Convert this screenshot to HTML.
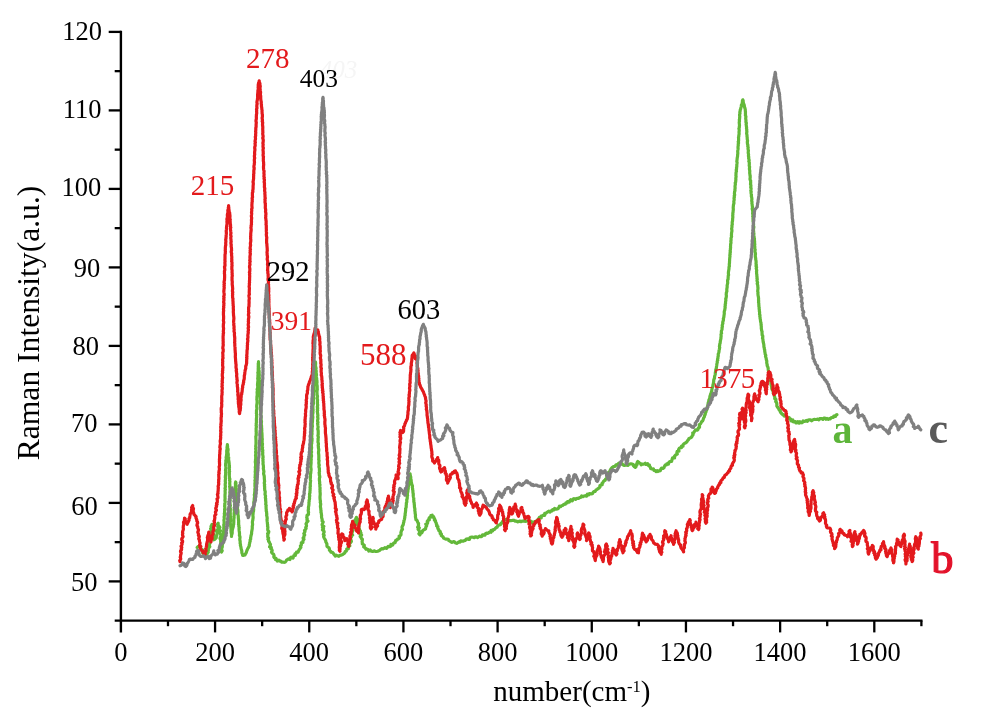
<!DOCTYPE html>
<html><head><meta charset="utf-8"><style>
html,body{margin:0;padding:0;background:#fff;}
svg{display:block;font-family:"Liberation Serif",serif;}
</style></head><body>
<svg width="983" height="723" viewBox="0 0 983 723">
<polyline points="197.2,547.6 197.9,546.7 199.1,546.6 200.0,546.0 200.6,546.9 200.7,548.1 201.0,549.1 202.4,549.7 202.9,550.7 202.5,552.0 202.7,553.1 204.1,553.2 204.7,553.9 205.0,555.0 206.4,555.4 207.1,554.2 207.3,553.1 208.3,552.2 207.9,550.9 208.5,549.9 207.9,548.5 209.1,547.7 209.8,546.7 209.4,545.4 209.5,544.3 210.0,543.2 210.0,542.1 209.0,540.9 210.3,539.9 210.1,538.7 209.7,537.6 209.3,536.4 210.9,535.4 210.3,534.3 210.8,533.2 211.2,532.1 211.0,531.0 211.5,529.9 210.6,528.7 211.4,527.7 211.0,526.5 211.5,525.4 212.1,524.3 211.4,525.5 211.7,526.6 213.2,527.5 213.2,528.7 213.2,529.8 212.0,531.0 213.1,532.0 212.8,533.2 213.5,534.2 213.3,535.4 213.6,536.5 213.8,537.6 213.5,538.7 213.8,539.8 214.7,539.4 215.4,538.7 216.3,537.7 216.1,536.5 216.8,535.5 216.8,534.4 217.3,533.3 216.9,532.1 216.2,530.8 217.6,530.0 218.0,528.9 218.1,527.8 217.7,526.5 218.2,525.5 217.5,524.2 218.2,523.2 217.8,524.4 218.5,525.4 219.2,526.5 219.9,527.5 218.7,528.9 218.7,530.0 220.5,530.8 219.4,532.2 220.3,533.2 220.4,534.3 221.1,535.4 220.9,536.5 220.1,537.6 220.0,538.8 221.6,539.8 220.6,541.0 221.7,542.0 220.6,543.2 221.3,544.2 220.4,545.4 220.3,546.5 221.2,547.6 220.4,548.7 221.7,549.8 222.2,550.8 221.5,552.0 221.8,550.9 221.0,549.7 221.4,548.6 222.1,547.6 222.3,546.5 222.3,545.3 222.4,544.2 222.9,543.2 222.8,542.0 223.3,540.9 223.2,539.8 223.5,538.7 223.2,537.6 223.3,536.5 223.4,535.5 223.5,534.4 223.6,533.3 223.6,532.2 223.7,531.1 223.9,530.0 223.7,528.9 223.8,527.8 223.9,526.8 223.8,525.7 223.8,524.6 224.2,523.5 224.1,522.4 224.1,521.3 223.9,520.2 224.2,519.1 224.3,518.1 224.1,517.0 224.4,515.9 224.5,514.8 224.3,513.7 224.6,512.6 224.6,511.5 224.7,510.4 224.6,509.3 224.8,508.3 224.9,507.2 224.6,506.1 224.9,505.0 224.7,503.9 225.0,502.8 225.2,501.7 224.9,500.6 225.0,499.5 225.1,498.4 225.0,497.2 225.0,496.1 225.0,495.0 225.1,493.9 225.2,492.8 225.1,491.7 225.1,490.6 225.4,489.5 225.0,488.4 225.3,487.3 225.4,486.2 225.2,485.1 225.2,483.9 225.5,482.8 225.3,481.7 225.3,480.6 225.4,479.5 225.6,478.4 225.3,477.3 225.4,476.2 225.5,475.1 225.7,474.0 225.6,472.9 225.8,471.8 225.5,470.7 225.6,469.5 225.8,468.4 225.9,467.3 225.7,466.2 225.6,465.1 225.6,464.0 225.8,462.9 225.9,461.8 225.8,460.7 226.2,459.7 226.3,458.6 226.1,457.5 226.3,456.5 226.6,455.4 226.6,454.3 226.8,453.3 226.7,452.2 226.7,451.1 226.8,450.0 227.2,449.0 227.0,447.9 227.1,446.8 227.3,445.8 227.4,444.7 227.5,445.8 227.6,446.8 227.5,447.9 228.0,449.0 228.1,450.0 227.8,451.1 227.9,452.2 228.0,453.3 228.3,454.3 228.2,455.4 228.3,456.5 228.7,457.5 228.6,458.6 228.6,459.7 228.8,460.8 229.0,461.8 229.1,462.9 229.2,464.0 229.2,465.1 229.3,466.1 229.5,467.2 229.2,468.3 229.4,469.4 229.2,470.5 229.6,471.6 229.2,472.6 229.4,473.7 229.3,474.8 229.3,475.9 229.4,477.0 229.5,478.1 229.9,479.1 229.5,480.2 229.9,481.3 229.8,482.4 229.7,483.5 229.8,484.6 229.9,485.6 229.6,486.7 229.9,487.8 229.9,488.9 230.0,490.0 230.1,491.1 229.8,492.2 230.0,493.3 229.9,494.4 230.1,495.5 230.2,496.6 230.0,497.8 229.9,498.9 230.2,500.0 229.9,501.1 229.9,502.2 230.0,503.3 230.0,504.4 230.4,505.5 230.1,506.6 230.0,507.7 230.4,508.8 230.3,509.9 230.3,511.0 230.2,512.1 230.3,513.2 230.3,514.3 230.2,515.5 230.6,516.6 230.5,517.7 230.5,518.8 230.5,519.9 230.6,521.0 230.1,522.1 230.4,523.2 230.3,524.3 230.8,525.4 230.7,526.5 230.9,527.6 231.0,528.7 231.0,529.8 231.0,531.0 231.1,532.1 231.3,533.2 231.5,534.3 231.5,535.4 231.5,536.5 231.5,535.4 231.9,534.3 232.2,533.2 232.2,532.1 232.2,530.9 232.4,529.8 232.7,528.7 233.0,527.6 233.3,526.5 233.3,525.4 233.7,524.3 233.7,523.2 233.8,522.1 233.8,521.0 233.8,519.9 233.9,518.7 234.1,517.6 234.0,516.5 234.2,515.4 234.1,514.3 234.1,513.2 234.3,512.1 234.4,511.0 234.1,509.8 234.4,508.7 234.4,507.6 234.7,506.5 234.8,505.4 234.6,504.3 234.9,503.2 234.9,502.1 234.7,500.9 234.8,499.8 234.7,498.7 235.1,497.6 235.1,496.5 235.2,495.4 235.3,494.3 235.2,493.1 235.3,492.0 235.3,490.9 235.1,489.8 235.4,488.7 235.2,487.6 235.3,486.4 235.7,485.3 235.4,484.2 235.4,483.1 235.7,482.0 236.0,483.1 235.7,484.3 236.1,485.4 236.2,486.5 235.9,487.6 236.3,488.7 236.1,489.9 236.2,491.0 236.2,492.1 236.2,493.3 236.5,494.4 236.5,495.5 236.9,496.6 236.6,497.7 236.8,498.9 236.8,500.0 237.0,501.1 237.3,502.2 237.0,503.3 237.0,504.4 237.6,505.5 237.5,506.6 237.5,507.7 237.4,508.8 237.8,509.9 237.9,511.0 238.0,512.1 237.9,513.3 237.9,514.4 238.2,515.5 238.3,516.6 238.3,517.7 238.4,518.8 238.5,519.9 238.7,521.0 238.6,522.1 238.7,523.2 238.5,524.3 238.9,525.4 238.8,526.5 239.2,527.6 239.0,528.8 239.1,529.9 239.2,531.0 239.4,532.1 239.5,533.2 239.5,534.3 239.4,535.4 239.9,536.5 240.0,537.6 239.8,538.7 239.8,539.9 240.1,541.0 240.2,542.1 240.1,543.2 240.5,544.3 240.4,545.4 240.8,546.5 241.0,547.6 241.1,548.7 241.5,549.8 241.8,550.9 241.8,552.0 241.9,553.1 242.5,554.2 242.6,555.3 243.8,555.3 245.0,555.0 245.4,553.9 246.1,553.0 246.5,551.9 246.8,550.8 247.3,549.8 247.7,548.7 248.3,547.8 248.8,546.7 249.3,545.7 249.3,544.6 249.6,543.4 249.8,542.3 250.2,541.2 250.1,540.1 250.7,539.0 250.6,537.8 250.9,536.7 251.0,535.6 251.4,534.5 251.6,533.4 251.6,532.2 251.8,531.1 252.0,530.0 252.2,528.9 252.3,527.8 252.2,526.7 252.4,525.6 252.6,524.5 252.5,523.4 252.4,522.3 252.5,521.2 252.8,520.1 252.9,519.0 253.1,517.9 253.1,516.8 252.9,515.7 253.0,514.6 253.1,513.5 253.1,512.4 253.5,511.4 253.6,510.3 253.7,509.2 253.5,508.0 253.9,507.0 253.7,505.9 253.8,504.8 254.0,503.7 253.8,502.6 253.9,501.5 254.3,500.4 254.2,499.3 254.3,498.2 254.5,497.1 254.6,496.0 254.3,494.9 254.6,493.8 254.7,492.7 254.8,491.6 254.9,490.5 254.8,489.4 255.0,488.3 255.2,487.2 254.9,486.1 255.0,485.0 254.9,483.9 255.0,482.8 255.2,481.7 254.9,480.6 255.3,479.5 255.4,478.4 255.0,477.3 255.4,476.2 255.2,475.1 255.4,474.0 255.4,472.9 255.2,471.8 255.4,470.7 255.4,469.6 255.5,468.5 255.3,467.4 255.5,466.3 255.7,465.2 255.6,464.1 255.5,463.0 255.3,461.9 255.5,460.8 255.5,459.7 255.7,458.6 255.7,457.5 255.7,456.4 255.5,455.3 255.8,454.2 255.8,453.1 255.6,452.0 255.9,450.9 255.9,449.8 255.6,448.7 256.0,447.6 255.7,446.5 255.8,445.4 256.0,444.3 256.0,443.2 256.0,442.1 256.0,441.0 256.0,439.9 255.9,438.8 255.9,437.7 255.8,436.6 256.2,435.5 256.2,434.4 256.2,433.3 256.3,432.2 256.1,431.1 256.2,430.0 256.1,428.9 256.2,427.8 256.5,426.7 256.1,425.6 256.3,424.5 256.2,423.4 256.5,422.3 256.4,421.2 256.4,420.1 256.4,419.0 256.5,417.9 256.7,416.8 256.5,415.7 256.8,414.6 256.4,413.5 256.5,412.4 256.5,411.3 256.5,410.2 256.9,409.1 256.9,408.0 256.7,406.9 256.7,405.8 256.8,404.7 257.0,403.6 257.1,402.5 257.1,401.4 257.0,400.3 256.8,399.2 257.0,398.1 256.9,397.0 257.1,395.9 257.2,394.8 257.2,393.7 257.1,392.6 257.2,391.5 257.5,390.4 257.1,389.3 257.6,388.2 257.7,387.1 257.7,386.0 257.5,384.9 257.6,383.8 257.7,382.7 257.8,381.6 258.0,380.5 257.9,379.4 257.7,378.2 258.0,377.2 257.9,376.0 258.0,374.9 258.1,373.8 257.8,372.7 258.2,371.6 258.2,370.5 258.2,369.4 258.2,368.3 258.3,367.2 258.2,366.1 258.4,365.0 258.2,363.9 258.5,362.8 258.5,361.7 258.5,362.8 258.6,363.9 258.6,365.0 258.5,366.1 258.6,367.2 259.0,368.3 258.7,369.4 258.9,370.5 259.2,371.6 259.1,372.7 259.2,373.8 259.3,374.9 259.2,376.0 259.0,377.2 259.4,378.2 259.1,379.4 259.3,380.5 259.6,381.5 259.3,382.7 259.5,383.8 259.4,384.9 259.5,386.0 259.6,387.1 259.8,388.2 259.6,389.3 259.6,390.4 259.7,391.5 260.0,392.6 259.9,393.7 260.1,394.8 260.1,395.9 260.3,397.0 260.4,398.1 260.5,399.2 260.4,400.4 260.5,401.5 260.4,402.6 260.4,403.7 260.5,404.9 260.6,406.0 260.5,407.1 260.7,408.2 260.7,409.3 260.6,410.5 260.8,411.6 261.0,412.7 260.7,413.8 260.8,414.9 261.1,416.0 261.1,417.2 261.1,418.3 261.1,419.4 261.3,420.5 261.5,421.6 261.4,422.8 261.2,423.9 261.4,425.0 261.6,426.1 261.5,427.2 261.7,428.3 261.7,429.5 261.8,430.6 261.7,431.7 261.9,432.8 262.0,433.9 262.0,435.0 262.1,436.1 262.0,437.3 262.2,438.4 262.3,439.5 262.1,440.6 262.2,441.7 262.1,442.8 262.5,443.9 262.3,445.1 262.4,446.2 262.6,447.3 262.2,448.4 262.6,449.5 262.8,450.6 262.6,451.8 262.8,452.9 262.6,454.0 262.8,455.1 263.0,456.2 263.1,457.3 262.8,458.4 263.1,459.6 262.9,460.7 263.1,461.8 263.1,462.9 263.0,464.0 263.3,465.1 263.4,466.2 263.5,467.3 263.3,468.4 263.5,469.5 263.7,470.5 263.9,471.6 263.7,472.7 263.6,473.8 263.9,474.9 264.2,476.0 264.3,477.1 264.3,478.2 264.4,479.3 264.5,480.3 264.6,481.4 264.3,482.5 264.3,483.6 264.7,484.7 264.4,485.8 264.7,486.9 264.6,488.0 264.7,489.1 264.7,490.2 265.2,491.3 265.2,492.4 265.1,493.5 265.0,494.6 265.5,495.6 265.5,496.7 265.3,497.8 265.7,498.9 265.6,500.0 265.7,501.1 265.9,502.2 265.8,503.3 265.7,504.4 266.2,505.4 266.0,506.5 266.1,507.6 266.1,508.7 266.3,509.8 266.2,510.9 266.6,511.9 266.6,513.0 266.8,514.1 266.6,515.2 266.9,516.3 267.1,517.4 267.2,518.5 267.0,519.6 267.1,520.6 267.2,521.7 267.4,522.8 267.4,523.9 267.7,525.0 267.5,526.1 267.9,527.1 267.8,528.2 267.7,529.3 267.9,530.4 268.8,531.5 268.6,532.6 267.6,533.7 268.0,534.8 267.7,535.9 267.8,537.0 268.6,538.0 267.9,539.2 268.7,540.2 268.6,541.4 269.5,542.3 269.8,543.3 270.5,544.3 270.3,545.5 269.6,546.8 271.3,547.5 270.8,548.8 271.9,549.6 272.2,550.7 271.5,552.0 272.0,553.0 272.9,553.7 273.7,554.5 274.1,555.5 273.8,556.9 274.4,557.8 275.9,558.2 275.6,559.6 276.8,559.5 277.4,561.1 278.9,560.1 279.7,561.1 280.8,561.1 281.7,562.1 282.8,562.1 283.9,562.3 285.1,562.2 285.9,561.3 286.5,560.2 287.5,559.6 288.3,558.9 290.0,559.5 290.3,557.8 291.2,557.2 293.0,558.1 293.5,556.8 293.8,555.6 295.4,555.5 295.0,553.8 296.2,553.4 296.5,552.2 298.1,552.1 298.5,551.0 299.0,550.0 299.7,549.1 300.3,548.2 300.9,547.3 300.4,546.0 301.3,545.2 301.4,544.1 301.3,542.9 302.9,542.4 302.9,541.2 303.2,540.2 304.0,539.2 303.1,538.0 303.9,537.0 304.0,535.9 304.7,534.9 303.8,533.6 304.5,532.6 305.0,531.6 304.5,530.4 305.5,529.5 306.1,528.5 305.7,527.3 306.4,526.3 306.5,525.3 306.0,524.0 306.5,523.0 307.0,522.0 308.0,521.0 306.9,519.8 307.2,518.7 306.7,517.6 307.0,516.5 307.0,515.4 308.5,514.5 308.3,513.4 308.6,512.3 308.3,511.2 308.2,510.1 308.5,509.0 308.4,507.9 308.5,506.8 308.8,505.7 308.9,504.6 309.0,503.6 308.9,502.4 309.2,501.4 309.1,500.3 309.5,499.2 309.6,498.1 309.4,497.0 309.8,496.0 309.5,494.8 309.6,493.7 310.0,492.7 309.9,491.6 310.1,490.5 310.1,489.4 310.2,488.3 310.0,487.2 310.4,486.1 310.2,485.0 310.3,483.9 310.3,482.8 310.5,481.7 310.6,480.6 310.4,479.5 310.3,478.4 310.4,477.3 310.5,476.2 310.4,475.1 310.5,474.0 310.8,472.9 310.8,471.8 311.0,470.7 311.1,469.6 311.0,468.5 310.8,467.4 310.8,466.3 310.9,465.2 311.0,464.1 311.1,463.0 311.1,461.9 311.0,460.8 311.3,459.7 311.1,458.6 311.2,457.5 311.5,456.4 311.5,455.3 311.2,454.1 311.2,453.0 311.6,452.0 311.2,450.8 311.3,449.7 311.5,448.6 311.6,447.5 311.4,446.4 311.4,445.3 311.5,444.2 311.8,443.1 311.7,442.0 312.0,440.9 312.0,439.8 312.1,438.7 311.7,437.6 311.8,436.5 311.7,435.4 312.0,434.3 312.0,433.2 311.9,432.1 312.1,431.0 312.0,429.9 312.1,428.8 312.1,427.7 312.4,426.6 312.3,425.5 312.2,424.4 312.2,423.3 312.4,422.2 312.5,421.1 312.5,420.0 312.6,418.9 312.8,417.8 312.8,416.7 312.6,415.6 312.6,414.5 312.9,413.4 313.0,412.3 312.9,411.3 313.1,410.2 313.0,409.1 312.9,408.0 312.9,406.9 312.9,405.8 313.2,404.7 313.4,403.6 313.5,402.5 313.3,401.4 313.4,400.3 313.6,399.2 313.6,398.1 313.5,397.0 313.5,395.9 313.6,394.8 313.5,393.7 313.5,392.6 313.8,391.6 314.0,390.5 313.8,389.4 313.8,388.3 313.8,387.2 313.9,386.1 314.0,385.0 314.2,383.9 314.1,382.8 314.4,381.7 314.1,380.6 314.3,379.5 314.4,378.4 314.5,377.3 314.7,376.2 314.8,375.2 314.9,374.1 314.8,373.0 314.6,371.8 315.0,370.8 315.0,369.7 315.1,368.6 315.0,367.5 315.3,366.4 315.5,365.3 315.2,364.2 315.5,363.1 315.5,362.0 315.6,363.1 315.6,364.2 315.5,365.3 315.6,366.4 315.8,367.5 316.1,368.6 315.8,369.7 316.2,370.8 316.2,371.9 316.1,373.0 316.4,374.0 316.5,375.1 316.2,376.3 316.3,377.3 316.7,378.4 316.7,379.5 316.8,380.6 317.0,381.7 317.0,382.8 316.7,383.9 317.0,385.0 317.2,386.1 317.2,387.2 317.2,388.3 317.3,389.4 317.1,390.5 317.0,391.6 317.0,392.7 317.1,393.8 317.1,394.9 317.5,396.0 317.4,397.1 317.1,398.2 317.5,399.3 317.5,400.4 317.4,401.5 317.5,402.6 317.4,403.7 317.7,404.8 317.6,405.9 317.3,407.0 317.7,408.1 317.3,409.2 317.7,410.3 317.3,411.4 317.5,412.5 317.6,413.6 317.8,414.7 317.9,415.8 317.6,416.9 317.9,418.0 317.9,419.1 317.6,420.2 317.6,421.3 318.0,422.4 317.6,423.5 317.8,424.6 317.9,425.7 318.1,426.8 318.0,427.9 317.7,429.0 318.1,430.1 318.2,431.2 318.2,432.3 318.2,433.4 318.2,434.5 317.9,435.6 318.3,436.7 318.3,437.8 318.0,438.9 318.2,440.0 318.0,441.1 318.0,442.2 318.4,443.3 318.4,444.4 318.2,445.5 318.4,446.6 318.4,447.6 318.6,448.7 318.8,449.8 318.7,450.9 318.5,452.0 318.5,453.1 318.7,454.2 318.8,455.3 318.8,456.4 318.8,457.5 318.8,458.6 318.7,459.7 319.1,460.7 318.9,461.8 318.8,462.9 318.9,464.0 319.3,465.1 318.9,466.2 319.0,467.3 319.4,468.4 319.4,469.5 319.4,470.6 319.5,471.7 319.1,472.8 319.4,473.8 319.3,474.9 319.7,476.0 319.8,477.1 319.4,478.2 319.4,479.3 319.4,480.4 319.6,481.5 319.7,482.6 319.6,483.7 320.0,484.8 319.8,485.9 319.9,487.0 320.1,488.0 319.9,489.1 320.1,490.2 320.0,491.3 320.1,492.4 320.2,493.5 320.2,494.6 320.1,495.7 320.0,496.8 320.0,497.9 320.1,499.0 320.2,500.1 320.5,501.1 320.2,502.2 320.6,503.3 320.7,504.4 320.5,505.5 320.4,506.6 320.6,507.7 320.8,508.8 320.8,509.9 321.1,511.0 320.9,512.2 321.3,513.2 321.4,514.3 321.6,515.5 321.5,516.6 321.6,517.7 322.0,518.8 322.2,519.9 322.1,521.0 323.2,522.0 322.7,523.2 322.1,524.4 322.3,525.5 323.8,526.4 322.5,527.7 323.5,528.7 322.5,530.0 323.8,530.9 324.2,532.0 323.7,533.2 323.3,534.4 324.2,535.4 323.6,536.6 324.0,537.6 324.5,538.7 325.2,539.7 325.7,540.7 325.8,541.9 326.4,542.8 326.9,543.9 326.9,545.1 327.0,546.3 327.9,547.2 329.1,547.9 329.4,549.0 329.4,550.3 330.4,551.0 330.9,552.1 332.3,552.3 333.2,553.1 333.8,554.2 334.6,555.0 335.2,556.1 336.2,555.1 337.5,555.8 338.8,556.3 339.8,555.4 341.0,555.2 342.1,554.8 343.0,554.3 343.9,553.6 344.8,553.0 345.1,551.6 346.2,551.3 346.8,550.3 346.7,549.0 348.4,548.7 348.0,547.3 348.7,546.4 349.8,545.8 349.3,544.4 349.6,543.3 350.6,542.6 351.4,541.6 351.2,540.4 350.5,539.1 350.6,538.0 351.4,537.0 351.0,535.8 352.6,535.0 351.7,533.6 352.1,532.6 352.5,531.5 352.9,530.4 353.0,529.3 353.5,528.2 353.5,527.1 354.1,526.1 354.0,524.9 353.8,523.7 355.6,523.0 355.4,521.8 354.7,520.4 355.7,519.5 356.5,518.6 356.4,517.4 355.8,518.7 357.7,519.3 358.1,520.3 357.5,521.6 357.9,522.6 357.3,523.9 357.7,524.9 358.9,525.8 359.0,526.9 359.0,528.0 359.4,529.0 358.9,530.2 360.4,531.0 360.3,532.1 361.0,533.0 360.3,534.3 361.6,535.1 360.2,536.5 361.1,537.4 361.3,538.4 362.4,539.3 362.3,540.4 362.1,541.5 362.3,542.6 362.3,543.9 363.3,544.5 364.3,545.3 363.7,546.9 364.8,547.5 365.5,548.4 366.1,549.3 367.2,549.1 368.2,549.6 368.8,551.0 370.2,550.0 370.9,551.0 371.9,551.3 373.0,551.4 374.1,550.8 375.3,551.4 376.5,551.5 377.6,551.2 378.6,550.9 379.7,550.3 380.6,549.4 381.6,548.7 383.0,548.9 384.0,548.3 385.0,547.7 386.5,548.4 387.4,547.4 388.1,546.4 389.7,546.7 390.7,546.3 390.9,544.4 392.7,545.0 393.2,543.6 394.0,542.8 395.2,542.6 395.4,541.4 395.8,540.4 397.1,540.0 397.6,539.0 398.9,538.6 399.5,537.8 399.1,536.1 400.2,535.6 401.0,534.8 401.0,533.7 400.9,532.5 401.3,531.4 401.5,530.4 402.5,529.4 402.1,528.2 402.0,527.0 402.4,526.0 403.1,525.0 403.4,523.9 403.5,522.8 403.9,521.8 403.9,520.6 404.4,519.6 404.6,518.5 404.8,517.4 404.8,516.3 405.2,515.2 405.1,514.1 405.3,513.0 405.5,511.9 405.6,510.9 405.7,509.8 405.6,508.6 406.1,507.6 406.2,506.5 406.2,505.4 406.4,504.3 406.3,503.2 406.8,502.1 406.8,501.0 406.7,499.9 407.1,498.9 407.3,497.8 407.1,496.7 407.6,495.6 407.4,494.5 407.4,493.4 407.7,492.3 407.9,491.2 407.9,490.1 408.2,489.1 408.3,488.0 408.2,486.9 408.6,485.8 408.9,484.7 408.8,483.6 409.0,482.6 409.3,481.5 409.2,480.4 409.4,479.3 409.6,478.2 409.8,477.2 409.7,476.0 409.8,475.0 410.1,473.9 410.2,475.0 410.5,476.1 410.8,477.2 410.7,478.4 410.9,479.5 411.2,480.6 411.2,481.7 411.5,482.9 411.7,484.0 412.1,485.0 412.5,486.1 412.3,487.3 412.6,488.4 412.6,489.5 412.9,490.6 412.9,491.7 413.0,492.9 413.3,494.0 413.2,495.1 413.3,496.2 413.5,497.3 413.8,498.4 413.7,499.6 413.9,500.7 413.8,501.8 414.2,502.9 414.2,504.0 414.4,505.1 414.4,506.2 414.5,507.4 414.8,508.5 414.9,509.6 414.8,510.7 415.1,511.8 415.1,512.9 415.3,514.0 415.5,515.1 415.4,516.3 415.5,517.4 415.8,518.5 415.9,519.6 416.9,520.3 417.4,521.3 417.8,522.4 418.6,523.4 418.4,524.6 418.6,525.7 417.7,527.1 419.3,527.9 418.1,529.3 419.1,530.3 419.4,531.4 419.9,532.5 418.9,533.8 419.9,534.8 420.2,533.6 421.5,533.1 422.2,532.2 422.5,530.9 423.3,530.1 424.4,529.5 425.6,528.8 425.7,527.7 426.0,526.7 426.7,525.8 425.8,524.2 427.2,523.6 427.7,522.7 427.2,521.3 428.0,520.5 429.3,519.8 428.9,518.5 429.5,517.5 430.9,517.2 430.9,515.6 432.2,515.2 432.5,516.3 433.7,516.8 433.8,518.0 434.6,518.7 434.4,520.1 435.5,520.7 435.4,521.8 436.2,522.7 436.2,523.8 436.9,524.7 436.6,525.9 437.9,526.6 437.7,527.7 438.0,528.7 438.7,529.6 438.8,530.7 440.0,531.2 440.4,532.2 440.2,533.6 441.4,534.1 441.2,535.5 442.1,536.2 443.1,536.8 443.6,538.1 444.6,538.6 445.7,539.1 447.0,539.2 448.3,539.3 448.8,540.6 449.9,541.1 450.9,541.8 451.9,542.4 453.4,541.6 454.5,541.9 455.4,542.8 456.7,543.4 457.7,542.7 458.7,541.9 460.0,542.1 460.8,540.8 462.1,541.2 463.3,541.2 464.3,540.6 465.3,540.4 466.0,539.3 467.0,538.9 468.3,539.3 469.4,539.4 469.9,537.8 470.8,537.2 471.9,537.0 473.1,537.3 474.3,537.7 475.3,536.8 476.4,536.8 477.7,537.6 478.7,536.8 479.7,536.1 480.9,536.7 482.0,536.2 482.5,534.9 483.7,534.9 485.0,535.1 485.5,533.8 486.3,533.1 487.7,533.4 488.6,532.9 489.4,532.0 491.0,532.3 491.1,530.4 492.7,530.8 493.3,529.5 494.6,529.5 495.3,528.4 496.1,527.6 497.1,527.3 497.6,526.1 498.3,525.3 499.4,524.9 500.6,524.7 500.9,523.4 501.9,522.9 502.4,521.7 503.4,521.1 503.9,519.9 505.2,519.6 506.4,519.5 507.4,520.2 508.5,520.3 509.6,520.7 510.8,520.7 512.0,520.5 513.1,520.2 514.2,520.4 515.2,521.1 516.4,521.1 517.4,521.8 518.5,521.7 519.6,521.0 520.8,521.7 521.9,521.2 523.0,521.2 524.1,520.7 525.2,521.3 526.5,521.2 527.7,521.2 528.9,521.2 530.0,521.8 531.3,521.3 532.1,522.9 533.3,522.6 534.4,522.9 534.6,521.7 536.4,522.0 536.8,520.8 537.6,520.1 538.1,519.2 538.9,518.5 539.4,517.3 541.2,517.9 541.2,516.0 542.3,515.7 543.3,515.2 544.7,515.3 544.7,513.3 545.9,513.2 546.8,512.5 547.7,511.9 548.7,511.2 550.1,512.1 551.0,510.9 552.1,510.8 552.7,509.5 554.0,509.8 554.6,508.5 556.1,509.2 557.2,509.0 558.2,508.5 558.8,507.4 559.4,506.2 560.8,506.7 561.5,505.7 562.5,505.5 563.4,504.7 564.3,504.3 565.4,504.1 565.9,502.9 567.3,503.0 567.6,501.5 569.4,502.1 569.8,500.8 570.7,499.7 572.3,500.9 573.0,499.2 574.0,498.6 575.5,499.4 576.5,498.6 577.6,498.3 578.8,498.3 579.7,497.5 580.9,497.3 581.6,496.0 583.0,496.7 584.0,496.0 585.2,495.7 586.6,496.2 587.4,494.2 588.8,494.8 589.5,493.5 591.1,493.9 592.4,493.7 593.1,492.4 593.8,491.7 595.0,491.5 595.6,490.6 596.2,489.8 597.1,489.3 598.0,488.7 599.1,487.9 600.0,486.9 599.9,485.6 600.9,485.0 602.2,484.6 602.1,483.3 603.0,482.6 603.3,481.6 604.1,480.8 605.1,480.3 605.5,479.3 606.4,478.6 607.2,477.8 606.9,476.4 607.0,475.3 607.7,474.4 607.7,473.2 608.5,472.4 609.6,471.8 610.1,470.8 610.4,469.8 611.0,468.8 611.7,468.0 612.5,467.3 613.4,466.7 614.6,466.5 615.4,465.8 616.0,464.8 617.5,465.1 618.0,464.0 618.7,463.2 619.9,463.3 620.8,463.9 622.1,463.6 622.9,464.8 623.9,465.3 624.9,465.4 626.0,464.9 627.0,465.2 628.1,465.4 628.9,464.3 629.9,464.0 630.9,463.8 632.0,464.0 633.2,464.4 633.5,465.8 634.3,466.7 635.3,467.3 636.1,466.5 635.5,465.1 637.0,464.6 636.9,463.4 637.2,462.4 637.8,461.5 638.6,462.3 639.6,463.1 640.7,463.6 641.2,464.8 642.2,464.2 643.3,464.2 644.4,464.0 645.3,463.2 646.0,464.4 647.6,463.7 648.1,465.3 649.5,465.2 649.7,466.4 650.4,467.3 650.7,468.5 652.0,469.0 653.4,468.9 654.0,470.5 655.3,470.6 656.0,471.6 657.3,470.6 658.0,471.5 659.0,470.9 660.4,470.6 660.8,469.2 661.5,468.2 663.1,468.3 664.0,467.7 664.5,466.3 665.1,465.2 666.4,465.0 666.8,463.9 668.4,464.1 668.7,462.8 669.3,462.0 670.3,461.5 671.6,461.5 671.9,460.2 672.2,459.0 672.6,457.8 674.6,457.9 674.4,456.3 675.2,455.5 676.0,454.7 677.3,454.1 676.9,452.5 677.2,451.3 679.0,451.1 678.6,449.5 679.2,448.4 680.2,447.7 681.5,447.6 681.5,446.0 683.0,446.2 683.1,444.7 683.9,444.0 684.6,443.2 685.7,442.9 686.5,442.2 687.2,441.4 687.7,440.4 688.5,439.7 688.9,438.7 689.9,438.1 691.1,437.5 691.9,436.7 692.3,435.6 693.1,434.7 692.7,433.0 694.0,432.5 694.4,431.4 695.0,430.6 695.7,429.8 697.5,430.1 698.1,429.3 698.3,428.0 699.5,427.4 699.5,426.0 699.3,424.7 700.4,424.0 701.0,423.0 701.5,421.8 702.6,421.0 703.1,419.8 703.4,418.7 703.8,417.6 704.5,416.6 704.5,415.4 705.2,414.5 705.3,413.3 705.9,412.3 706.0,411.1 706.6,410.1 707.1,409.0 707.1,407.9 707.3,406.8 707.8,405.7 708.0,404.6 708.1,403.5 708.3,402.4 708.8,401.3 708.8,400.1 709.3,399.1 709.8,398.2 709.8,397.1 710.0,396.1 710.4,395.1 710.6,394.1 711.0,393.2 711.4,392.2 711.7,391.1 711.8,390.0 712.0,388.9 712.2,387.9 712.6,386.8 712.9,385.8 713.0,384.6 713.4,383.6 713.5,382.5 713.7,381.4 713.7,380.3 714.0,379.3 714.5,378.3 714.5,377.2 714.7,376.1 715.0,375.1 715.3,374.0 715.3,372.9 715.5,371.9 715.7,370.8 715.8,369.7 716.2,368.7 716.4,367.6 716.5,366.6 716.7,365.5 716.8,364.5 717.0,363.4 717.3,362.4 717.2,361.3 717.8,360.3 717.5,359.1 718.0,358.1 717.9,357.0 718.3,356.0 718.2,354.9 718.3,353.8 718.7,352.8 719.0,351.8 719.0,350.7 719.3,349.6 719.5,348.5 719.7,347.5 719.4,346.3 719.7,345.2 719.7,344.1 720.2,343.1 720.2,342.0 720.4,340.9 720.6,339.8 720.9,338.7 720.9,337.6 721.1,336.6 721.1,335.5 721.0,334.3 721.6,333.3 721.3,332.2 721.4,331.1 721.8,330.0 722.1,328.9 722.0,327.8 722.4,326.7 722.2,325.5 722.5,324.4 722.9,323.3 722.7,322.2 723.1,321.1 723.5,320.0 723.3,318.8 723.7,317.7 723.9,316.6 724.0,315.5 724.2,314.4 724.3,313.3 724.2,312.1 724.4,311.0 724.8,309.9 724.9,308.8 725.2,307.7 725.0,306.6 725.3,305.5 725.2,304.4 725.6,303.3 725.5,302.2 725.7,301.1 725.9,300.1 725.7,298.9 726.1,297.9 726.3,296.8 726.4,295.7 726.2,294.6 726.3,293.5 726.4,292.4 726.9,291.3 726.8,290.2 726.8,289.1 727.0,288.0 727.2,286.9 727.1,285.8 727.3,284.7 727.6,283.6 727.7,282.5 727.6,281.4 727.6,280.3 728.1,279.3 728.1,278.2 728.2,277.1 728.2,276.0 728.6,274.9 728.4,273.8 728.4,272.7 728.5,271.6 728.7,270.5 728.9,269.4 729.0,268.3 729.0,267.2 729.4,266.2 729.3,265.1 729.3,264.0 729.5,262.9 729.5,261.8 729.6,260.7 729.6,259.6 729.7,258.5 729.8,257.4 730.0,256.3 729.8,255.2 730.2,254.2 730.0,253.1 730.4,252.0 730.1,250.9 730.4,249.8 730.4,248.7 730.6,247.6 730.5,246.5 730.6,245.4 730.6,244.3 730.9,243.3 731.0,242.2 730.8,241.1 731.1,240.0 731.0,238.9 731.1,237.8 731.6,236.7 731.4,235.5 731.5,234.4 731.5,233.3 731.7,232.2 731.9,231.1 731.9,229.9 731.6,228.8 731.9,227.7 732.0,226.6 731.9,225.5 732.3,224.4 732.2,223.2 732.2,222.1 732.5,221.0 732.6,219.9 732.6,218.8 732.8,217.7 732.8,216.5 732.7,215.4 732.9,214.3 732.8,213.2 733.1,212.1 733.1,211.1 733.3,210.0 733.3,208.9 733.2,207.8 733.3,206.7 733.4,205.7 733.5,204.6 733.9,203.5 733.9,202.4 733.8,201.4 734.1,200.3 734.2,199.2 734.0,198.1 734.4,197.1 734.2,196.0 734.7,194.9 734.4,193.8 734.5,192.7 734.6,191.6 735.0,190.6 734.9,189.5 735.1,188.4 735.1,187.3 735.0,186.2 735.2,185.2 735.4,184.1 735.2,183.0 735.7,181.9 735.7,180.9 735.9,179.8 735.8,178.7 735.9,177.6 736.1,176.5 735.9,175.4 736.0,174.3 736.0,173.2 736.1,172.2 736.5,171.1 736.2,170.0 736.6,168.9 736.5,167.8 736.8,166.8 736.8,165.7 736.8,164.6 737.0,163.5 737.1,162.4 736.8,161.3 737.0,160.3 737.1,159.2 737.2,158.1 737.4,157.0 737.6,156.0 737.6,154.9 737.8,153.8 737.8,152.7 737.7,151.6 737.8,150.5 738.0,149.5 738.1,148.4 738.0,147.3 738.1,146.2 738.3,145.1 738.2,144.0 738.6,143.0 738.2,141.8 738.6,140.8 738.6,139.7 738.6,138.6 738.5,137.5 738.8,136.4 738.8,135.3 739.1,134.2 739.1,133.1 739.0,132.0 739.2,130.9 739.2,129.8 738.9,128.7 739.3,127.7 739.3,126.6 739.5,125.5 739.4,124.4 739.3,123.3 739.2,122.2 739.5,121.1 739.3,120.0 739.6,118.9 739.6,117.8 739.8,116.7 739.6,115.6 739.6,114.5 740.0,113.4 739.8,112.3 740.1,111.3 740.2,110.2 740.6,109.2 740.8,108.1 741.1,107.1 741.3,106.1 741.4,105.0 742.0,104.0 742.2,103.0 742.4,101.9 742.4,100.8 742.8,99.8 743.2,100.9 743.2,102.1 743.5,103.2 743.8,104.3 744.3,105.3 744.4,106.5 744.7,107.6 745.1,108.7 745.3,109.8 745.3,110.9 745.5,112.0 745.4,113.1 745.5,114.2 745.4,115.4 745.9,116.4 745.8,117.6 745.7,118.7 745.9,119.8 746.0,120.9 745.9,122.0 746.4,123.1 746.1,124.2 746.3,125.3 746.4,126.4 746.6,127.5 746.5,128.6 746.8,129.7 746.7,130.8 746.9,131.9 746.6,133.1 746.8,134.2 747.0,135.3 747.0,136.4 747.2,137.5 747.2,138.6 747.3,139.7 747.6,140.8 747.3,141.9 747.4,143.0 747.5,144.0 747.9,145.1 747.7,146.2 748.2,147.3 748.0,148.4 748.1,149.4 748.4,150.5 748.3,151.6 748.2,152.7 748.4,153.8 748.6,154.8 748.4,156.0 748.8,157.0 748.6,158.1 748.9,159.2 749.2,160.3 748.8,161.4 749.3,162.4 749.3,163.5 749.3,164.6 749.2,165.7 749.6,166.8 749.5,167.8 749.4,168.9 749.6,170.0 749.8,171.1 749.7,172.2 749.7,173.3 749.9,174.3 750.0,175.4 750.2,176.5 750.2,177.6 750.0,178.7 750.1,179.8 750.7,180.8 750.6,181.9 750.7,183.0 750.5,184.1 750.9,185.2 750.9,186.2 750.7,187.3 751.1,188.4 751.0,189.5 750.8,190.6 751.2,191.7 751.0,192.7 751.2,193.8 751.5,194.9 751.3,196.0 751.6,197.0 751.8,198.1 751.9,199.2 751.7,200.3 751.8,201.4 752.0,202.4 751.9,203.5 752.2,204.6 752.2,205.7 752.5,206.7 752.4,207.8 752.2,208.9 752.5,210.0 752.7,211.1 752.8,212.1 752.6,213.2 752.8,214.3 753.0,215.4 752.7,216.5 753.2,217.6 752.9,218.8 753.1,219.9 753.0,221.0 753.3,222.1 753.5,223.2 753.6,224.3 753.4,225.5 753.8,226.6 753.8,227.7 753.5,228.8 753.5,230.0 753.6,231.1 753.7,232.2 753.9,233.3 753.8,234.4 753.9,235.5 754.1,236.6 754.2,237.8 754.5,238.9 754.3,240.0 754.6,241.1 754.6,242.2 754.6,243.3 754.8,244.3 754.5,245.5 754.8,246.5 754.8,247.6 754.8,248.7 755.2,249.8 754.9,250.9 755.0,252.0 755.4,253.1 755.5,254.1 755.3,255.3 755.3,256.3 755.5,257.4 755.7,258.5 755.7,259.6 756.0,260.7 756.1,261.8 756.1,262.9 756.0,264.0 756.4,265.0 756.0,266.1 756.6,267.2 756.2,268.3 756.5,269.4 756.7,270.5 756.5,271.6 756.6,272.7 756.6,273.8 756.9,274.9 756.8,276.0 757.1,277.1 756.9,278.2 757.3,279.2 757.0,280.4 757.2,281.4 757.6,282.5 757.2,283.6 757.6,284.7 757.8,285.8 757.8,286.9 758.0,288.0 757.9,289.1 757.8,290.2 757.7,291.3 758.0,292.4 757.9,293.5 758.0,294.6 758.1,295.7 758.4,296.8 758.5,297.8 758.6,298.9 758.5,300.0 758.7,301.1 758.5,302.2 758.8,303.3 758.8,304.4 758.9,305.5 758.9,306.6 759.2,307.7 759.1,308.8 759.4,309.9 759.3,311.0 759.6,312.0 759.6,313.2 759.5,314.3 760.0,315.3 759.8,316.4 760.1,317.5 760.1,318.6 760.4,319.7 760.5,320.8 760.6,321.8 761.0,322.9 761.0,324.0 761.1,325.1 761.3,326.2 761.3,327.3 761.3,328.4 761.5,329.5 761.6,330.5 762.1,331.6 762.0,332.7 762.1,333.8 762.1,334.9 762.7,335.9 762.8,337.0 762.5,338.2 762.9,339.2 763.0,340.3 763.1,341.4 763.3,342.5 763.6,343.5 763.8,344.6 763.9,345.7 763.9,346.8 764.3,347.8 764.3,348.9 764.7,349.9 764.7,351.0 764.9,352.1 765.1,353.2 765.2,354.3 765.8,355.3 765.5,356.4 765.9,357.5 766.2,358.5 766.3,359.6 766.7,360.6 766.8,361.7 766.7,362.9 767.0,363.9 767.1,364.9 767.3,366.0 767.8,366.9 768.1,367.9 768.2,369.0 768.3,370.0 768.5,371.1 768.9,372.1 769.0,373.1 769.1,374.2 769.4,375.3 769.7,376.4 769.7,377.6 770.2,378.6 770.2,379.8 770.6,380.8 770.9,381.9 770.9,383.1 771.1,384.2 771.2,385.3 771.6,386.4 771.7,387.5 771.8,388.7 772.2,389.8 772.9,390.8 773.3,391.9 773.2,393.1 773.8,394.2 774.3,395.2 774.4,396.4 774.9,397.4 774.7,398.6 775.9,399.3 775.9,400.4 775.7,401.6 776.6,402.5 776.7,403.6 776.9,404.8 776.8,406.1 777.5,407.0 778.2,408.0 778.9,409.0 779.2,410.0 780.3,410.6 780.3,411.8 780.8,412.7 781.6,413.5 782.4,414.3 783.4,414.8 784.0,415.9 785.2,416.2 786.4,416.3 786.8,417.6 787.5,418.6 789.2,417.6 789.7,418.9 790.8,419.1 791.0,420.8 792.8,420.0 792.9,421.7 794.0,421.9 795.4,421.7 795.9,422.9 797.0,423.0 797.8,421.7 799.1,423.0 800.0,421.8 801.2,422.8 802.2,422.6 803.1,421.0 804.2,421.5 805.2,421.2 806.2,420.5 807.4,421.4 808.2,420.1 809.3,419.9 810.3,419.8 811.6,420.9 812.5,420.1 813.5,419.5 814.5,419.4 815.6,419.5 816.7,419.5 817.7,419.1 818.9,419.8 819.7,418.6 820.8,418.7 821.8,418.7 822.9,419.4 823.9,418.2 825.0,418.1 826.0,419.3 827.0,418.4 828.1,419.4 829.1,418.7 830.3,418.9 831.1,417.8 832.2,417.4 833.3,417.3 833.8,416.1 835.5,416.5 835.9,415.2 836.9,414.6" fill="none" stroke="#63b83a" stroke-width="3.2" stroke-linejoin="round" stroke-linecap="round"/>
<polyline points="180.0,561.6 179.7,560.5 180.6,559.5 180.7,558.4 180.2,557.2 180.6,556.1 180.6,555.1 181.0,554.0 181.2,552.9 180.5,551.7 180.6,550.6 181.6,549.7 181.3,548.5 181.8,547.5 181.0,546.3 181.6,545.2 182.1,544.2 181.6,543.0 182.6,542.0 182.6,540.9 181.7,539.7 181.8,538.7 182.5,537.6 183.1,536.6 182.6,535.4 182.5,534.3 182.8,533.3 182.5,532.1 182.8,531.0 183.2,530.0 183.4,528.9 183.2,527.8 183.3,526.7 183.4,525.6 183.8,524.5 183.7,523.4 183.5,522.3 184.6,521.3 184.3,520.2 184.6,519.1 184.5,518.0 185.3,519.0 184.9,520.6 185.9,521.5 185.9,522.6 187.2,523.2 187.2,524.3 187.4,523.1 188.2,522.2 188.5,521.1 189.1,520.1 188.9,518.8 189.7,517.8 189.8,516.7 190.0,515.5 190.1,514.3 190.7,513.3 191.3,512.3 191.6,511.2 191.5,509.9 191.9,508.9 191.6,507.6 192.1,506.5 192.7,505.5 192.5,506.7 193.1,507.7 193.5,508.8 193.2,510.0 193.2,511.1 193.4,512.2 193.9,513.3 193.9,514.4 194.7,515.1 195.4,515.9 196.1,516.6 195.9,517.8 196.4,518.8 196.8,519.9 196.8,521.0 197.5,522.0 197.7,523.1 197.1,524.3 196.9,525.5 197.7,526.5 197.7,527.6 198.1,528.7 198.5,529.8 198.3,530.9 197.8,532.1 198.2,533.2 198.6,534.3 198.4,535.4 199.3,536.4 199.1,537.6 198.7,538.8 199.4,539.8 199.4,540.9 199.7,542.0 200.1,543.1 199.9,544.3 199.5,545.4 200.8,546.4 200.0,547.6 200.5,548.7 201.0,549.7 201.6,550.5 202.7,550.9 203.0,552.1 203.5,553.3 204.3,554.2 204.9,555.3 205.2,554.2 205.2,553.1 204.9,551.9 206.1,551.0 205.9,549.8 205.7,548.6 206.2,547.6 206.4,546.5 206.6,545.4 206.6,544.3 206.8,543.2 207.2,542.1 207.5,541.0 207.6,539.9 207.7,538.7 207.3,537.5 207.7,536.5 207.9,535.4 208.5,534.3 209.0,533.3 208.8,532.1 208.6,533.3 208.8,534.4 209.0,535.5 209.8,536.5 209.3,537.7 209.9,538.7 210.1,539.9 211.1,540.7 211.0,542.0 210.7,540.8 211.0,539.7 212.1,538.8 212.1,537.6 212.0,536.4 212.1,535.3 213.0,534.3 212.9,533.2 212.8,532.0 213.2,530.9 213.8,529.9 213.9,528.8 213.6,527.6 213.8,526.5 214.5,525.5 214.2,524.3 214.2,523.2 214.5,522.1 214.0,521.0 214.6,519.9 214.7,518.8 214.9,517.7 214.7,516.5 214.8,515.4 215.9,514.4 215.6,513.3 215.4,512.1 216.0,511.1 216.5,510.0 215.7,508.7 215.9,507.6 216.6,506.6 216.3,505.5 217.1,504.4 216.5,503.2 217.3,502.2 217.3,501.1 217.3,500.0 217.0,498.8 218.0,497.8 217.9,496.7 217.7,495.5 217.4,494.4 218.1,493.3 217.9,492.2 218.1,491.1 218.2,490.0 218.2,488.9 218.4,487.8 218.1,486.7 218.3,485.6 218.7,484.5 218.7,483.4 218.5,482.3 218.8,481.2 218.6,480.0 218.9,479.0 218.9,477.8 218.8,476.7 218.8,475.6 218.7,474.5 219.2,473.4 218.8,472.3 219.1,471.2 219.3,470.1 219.4,469.0 219.3,467.9 219.1,466.8 219.5,465.8 219.6,464.7 219.5,463.6 219.5,462.5 219.4,461.4 219.5,460.3 219.4,459.2 219.7,458.1 219.6,457.0 219.6,455.9 219.6,454.8 219.9,453.8 219.8,452.7 219.9,451.6 219.9,450.5 220.2,449.4 220.2,448.3 219.8,447.2 220.0,446.1 220.1,445.0 220.5,444.0 220.4,442.9 220.2,441.8 220.2,440.7 220.5,439.6 220.6,438.5 220.7,437.4 220.5,436.3 220.8,435.3 220.7,434.2 220.7,433.1 221.0,432.0 220.6,430.9 220.8,429.8 220.9,428.7 220.7,427.6 220.7,426.5 221.1,425.4 220.8,424.3 221.1,423.2 221.1,422.1 221.3,421.0 221.1,419.8 221.1,418.7 221.1,417.6 221.4,416.5 221.3,415.4 221.5,414.3 221.5,413.2 221.2,412.1 221.4,411.0 221.2,409.9 221.2,408.8 221.3,407.7 221.7,406.6 221.7,405.5 221.8,404.4 221.6,403.2 221.7,402.1 221.9,401.0 221.7,399.9 221.8,398.8 221.7,397.7 221.7,396.6 221.8,395.5 222.1,394.4 222.0,393.3 222.2,392.2 222.0,391.1 222.0,390.0 222.3,388.9 222.3,387.8 221.9,386.6 222.3,385.5 222.1,384.4 222.1,383.3 222.5,382.2 222.1,381.1 222.4,380.0 222.3,378.9 222.7,377.8 222.4,376.7 222.3,375.6 222.3,374.5 222.4,373.4 222.7,372.3 222.4,371.2 222.8,370.1 222.6,369.0 222.9,367.9 222.9,366.8 222.6,365.7 222.6,364.6 222.7,363.5 222.6,362.4 222.8,361.3 222.6,360.2 222.6,359.1 223.1,358.1 222.8,356.9 222.9,355.9 222.9,354.8 222.8,353.7 222.7,352.6 223.2,351.5 223.2,350.4 223.2,349.3 222.8,348.2 222.9,347.1 223.1,346.0 223.3,344.9 223.1,343.8 223.2,342.7 223.2,341.6 223.1,340.5 223.2,339.4 223.1,338.3 223.1,337.2 223.1,336.1 223.3,335.0 223.2,333.9 223.6,332.8 223.3,331.7 223.4,330.6 223.5,329.5 223.6,328.4 223.4,327.3 223.3,326.2 223.4,325.1 223.4,324.0 223.7,322.9 223.7,321.8 223.4,320.7 223.5,319.6 223.6,318.5 223.6,317.4 223.6,316.3 223.5,315.2 223.4,314.1 223.5,313.0 223.4,311.9 223.7,310.9 223.5,309.8 223.5,308.7 223.8,307.6 223.6,306.5 223.9,305.4 223.8,304.3 224.0,303.2 223.6,302.1 223.8,301.0 224.0,299.9 223.7,298.8 224.1,297.7 223.7,296.6 224.1,295.5 224.2,294.4 224.1,293.3 223.9,292.2 223.8,291.1 224.0,290.0 224.0,288.9 224.3,287.8 224.0,286.7 224.3,285.6 224.0,284.5 224.4,283.4 224.0,282.2 224.2,281.1 224.5,280.0 224.5,278.9 224.6,277.8 224.6,276.7 224.6,275.6 224.6,274.5 224.4,273.4 224.5,272.3 224.4,271.2 224.8,270.1 224.8,269.0 224.6,267.9 224.5,266.7 225.0,265.7 225.0,264.5 224.9,263.4 224.9,262.3 225.1,261.2 224.9,260.1 225.0,259.0 225.0,257.9 225.0,256.8 225.0,255.8 225.0,254.7 225.3,253.6 225.3,252.5 225.4,251.4 225.2,250.3 225.4,249.3 225.3,248.2 225.4,247.1 225.5,246.0 225.8,245.0 225.7,243.9 225.7,242.8 225.9,241.7 225.8,240.6 225.7,239.5 226.0,238.5 226.0,237.4 226.2,236.3 226.1,235.2 226.3,234.2 226.4,233.1 226.3,232.0 226.2,230.9 226.4,229.7 226.5,228.6 226.5,227.5 226.6,226.4 226.8,225.3 227.0,224.1 227.1,223.0 226.9,221.9 227.1,220.8 226.9,219.6 227.0,218.5 227.3,217.4 227.5,216.3 227.3,215.1 227.5,214.0 227.8,213.0 228.0,211.9 227.8,210.8 228.1,209.8 228.4,208.7 228.3,207.6 228.6,206.6 228.6,205.5 228.6,206.6 228.8,207.6 228.8,208.7 229.0,209.8 229.1,210.8 229.4,211.9 229.7,212.9 229.7,214.0 229.9,215.1 230.0,216.2 229.9,217.4 229.8,218.5 230.3,219.6 230.0,220.8 230.1,221.9 230.3,223.0 230.3,224.1 230.6,225.2 230.3,226.4 230.8,227.5 230.4,228.6 230.5,229.8 230.7,230.9 230.8,232.0 231.0,233.1 230.7,234.2 230.7,235.2 231.1,236.3 230.8,237.4 230.8,238.5 231.0,239.6 231.0,240.6 231.2,241.7 230.9,242.8 231.0,243.9 231.3,245.0 231.1,246.0 231.3,247.1 231.5,248.2 231.5,249.3 231.6,250.4 231.2,251.4 231.3,252.5 231.7,253.6 231.5,254.7 231.6,255.8 231.8,256.8 231.8,257.9 231.7,259.0 231.9,260.1 231.6,261.2 232.0,262.3 232.0,263.4 231.9,264.5 232.1,265.6 231.8,266.8 231.9,267.9 231.8,269.0 232.1,270.1 232.1,271.2 232.0,272.3 232.2,273.4 232.1,274.5 232.3,275.6 232.1,276.7 232.0,277.8 232.1,278.9 232.0,280.0 232.2,281.1 232.3,282.2 232.2,283.4 232.2,284.5 232.4,285.6 232.5,286.7 232.6,287.8 232.7,288.9 232.5,290.0 232.4,291.1 232.8,292.2 232.5,293.3 232.7,294.4 232.5,295.5 232.6,296.6 232.6,297.6 233.0,298.7 232.9,299.8 232.9,300.9 233.1,302.0 233.0,303.1 233.2,304.2 233.1,305.3 233.4,306.4 233.3,307.5 233.3,308.5 233.4,309.6 233.4,310.7 233.3,311.8 233.4,312.9 233.5,314.0 233.5,315.1 233.7,316.2 233.8,317.3 233.9,318.4 233.8,319.4 233.7,320.5 233.6,321.6 233.7,322.7 233.9,323.8 233.7,324.9 234.0,326.0 234.1,327.1 233.9,328.2 234.2,329.3 234.1,330.4 234.0,331.5 234.4,332.5 234.5,333.6 234.4,334.7 234.5,335.8 234.6,336.9 234.8,338.0 234.7,339.1 234.7,340.2 234.8,341.3 234.6,342.4 234.8,343.5 234.8,344.6 234.8,345.6 234.9,346.7 235.1,347.8 235.0,348.9 235.1,350.0 235.2,351.1 235.2,352.2 235.4,353.3 235.4,354.4 235.4,355.5 235.3,356.6 235.4,357.6 235.5,358.7 235.6,359.8 235.6,360.9 235.8,362.0 235.8,363.1 236.0,364.2 236.1,365.2 236.0,366.3 236.0,367.4 236.2,368.5 236.5,369.5 236.2,370.7 236.5,371.7 236.5,372.8 236.8,373.9 236.7,375.0 236.6,376.0 236.8,377.1 237.0,378.2 236.9,379.3 237.3,380.3 237.1,381.4 236.9,382.5 237.1,383.6 237.4,384.7 237.3,385.8 237.4,386.8 237.7,387.9 237.6,389.0 237.8,390.1 237.6,391.3 237.9,392.4 238.1,393.5 237.8,394.7 238.0,395.8 238.2,396.9 238.2,398.1 238.1,399.2 238.5,400.3 238.3,401.5 238.4,402.6 238.4,403.7 238.7,404.9 238.7,406.0 238.8,407.1 239.1,408.1 239.1,409.2 239.4,410.3 239.2,411.4 239.3,412.5 239.6,413.5 239.7,412.4 239.8,411.3 240.3,410.3 240.3,409.2 240.5,408.1 240.5,407.0 240.3,405.9 240.8,404.8 240.8,403.7 240.7,402.6 240.8,401.5 241.1,400.4 241.1,399.3 240.9,398.2 241.2,397.1 241.2,396.0 241.2,394.9 241.8,393.9 241.7,392.8 242.1,391.8 242.2,390.7 242.3,389.6 242.3,388.5 242.7,387.5 242.6,386.4 242.8,385.3 243.3,384.3 243.3,383.2 243.7,382.2 243.6,381.0 243.9,380.0 244.2,379.0 244.3,377.9 244.3,376.8 244.3,375.7 244.6,374.7 244.8,373.6 244.8,372.6 245.0,371.5 245.1,370.4 245.5,369.4 245.8,368.4 245.7,367.3 245.7,366.2 246.2,365.2 246.4,364.1 246.7,363.1 246.6,362.0 246.7,360.9 246.6,359.8 246.9,358.7 246.6,357.6 247.0,356.6 246.7,355.4 246.9,354.4 247.0,353.3 247.0,352.2 247.0,351.1 247.1,350.0 247.4,348.9 247.3,347.8 247.4,346.7 247.3,345.6 247.6,344.6 247.4,343.5 247.6,342.4 247.8,341.3 247.9,340.2 247.5,339.1 247.9,338.0 248.0,336.9 247.8,335.8 247.9,334.7 248.1,333.6 248.3,332.6 248.1,331.5 248.4,330.4 248.4,329.3 248.1,328.2 248.6,327.1 248.4,326.0 248.2,324.9 248.3,323.8 248.6,322.7 248.3,321.6 248.5,320.5 248.4,319.4 248.6,318.4 248.8,317.3 248.8,316.2 248.4,315.1 248.5,314.0 248.9,312.9 248.5,311.8 248.7,310.7 248.6,309.6 248.6,308.5 248.6,307.4 249.0,306.4 249.0,305.3 249.0,304.2 249.1,303.1 249.1,302.0 249.0,300.9 249.1,299.8 249.3,298.7 249.2,297.6 249.0,296.5 248.9,295.4 249.4,294.4 249.3,293.3 249.2,292.2 249.3,291.1 249.3,290.0 249.4,288.9 249.4,287.8 249.1,286.7 249.3,285.6 249.4,284.5 249.3,283.4 249.6,282.3 249.4,281.2 249.6,280.1 249.6,279.0 249.6,277.9 249.7,276.8 249.7,275.7 249.5,274.6 249.8,273.5 249.4,272.4 249.8,271.3 249.8,270.2 249.9,269.1 249.7,268.0 249.5,266.9 249.6,265.8 250.0,264.7 249.8,263.6 249.8,262.5 250.2,261.5 249.7,260.4 250.0,259.3 250.0,258.2 249.9,257.1 250.0,256.0 250.2,254.9 250.4,253.8 250.0,252.7 250.3,251.6 250.1,250.5 250.5,249.5 250.1,248.4 250.2,247.3 250.4,246.2 250.6,245.1 250.4,244.0 250.4,242.9 250.7,241.8 250.8,240.7 250.8,239.6 250.6,238.5 250.7,237.5 250.6,236.4 250.8,235.3 250.7,234.2 250.8,233.1 250.9,232.0 251.1,230.9 251.2,229.8 251.1,228.7 250.9,227.6 251.2,226.5 251.1,225.5 251.5,224.4 251.4,223.3 251.5,222.2 251.5,221.1 251.4,220.0 251.6,218.9 251.7,217.8 251.4,216.7 251.4,215.6 251.6,214.5 251.7,213.5 251.5,212.4 251.7,211.3 251.8,210.2 251.6,209.1 252.1,208.0 252.0,206.9 251.9,205.8 251.9,204.7 252.0,203.6 252.0,202.5 252.3,201.5 252.2,200.4 252.3,199.3 252.1,198.2 252.6,197.1 252.4,196.0 252.4,194.9 252.4,193.8 252.4,192.7 252.9,191.7 252.7,190.6 253.0,189.5 253.1,188.4 253.1,187.3 253.1,186.2 253.2,185.2 253.3,184.1 253.3,183.0 253.0,181.9 253.3,180.8 253.4,179.7 253.6,178.7 253.6,177.6 253.6,176.5 253.7,175.4 253.6,174.3 253.9,173.2 253.8,172.1 253.8,171.1 253.9,170.0 254.2,168.9 254.0,167.8 253.9,166.7 254.0,165.6 254.3,164.6 254.3,163.5 254.5,162.4 254.4,161.3 254.3,160.2 254.4,159.1 254.7,158.0 254.4,156.9 254.4,155.7 254.7,154.6 254.6,153.5 254.6,152.4 254.7,151.3 254.9,150.2 254.9,149.1 254.7,148.0 254.8,146.9 255.2,145.8 255.2,144.7 255.0,143.5 255.4,142.4 255.0,141.3 255.2,140.2 255.5,139.1 255.5,138.0 255.3,136.9 255.7,135.8 255.6,134.7 255.7,133.6 255.8,132.4 255.6,131.3 255.8,130.2 255.8,129.1 255.8,128.0 256.1,126.9 256.1,125.8 256.1,124.7 256.2,123.6 256.3,122.5 256.0,121.4 256.0,120.2 256.3,119.2 256.4,118.0 256.3,116.9 256.4,115.8 256.4,114.7 256.7,113.6 256.7,112.5 256.6,111.4 256.7,110.3 256.5,109.2 257.0,108.1 256.8,107.0 256.8,105.9 256.9,104.8 257.2,103.8 256.9,102.6 257.0,101.5 257.2,100.5 257.5,99.4 257.5,98.3 257.7,97.2 257.6,96.1 257.6,95.0 257.7,93.9 257.8,92.8 257.9,91.7 257.9,90.6 258.2,89.5 258.3,88.4 258.1,87.3 258.3,86.2 258.2,85.1 258.4,84.0 258.6,82.9 258.9,81.9 259.2,80.8 259.4,81.9 259.7,82.9 260.0,84.0 259.8,85.1 260.3,86.2 260.1,87.3 260.0,88.4 260.2,89.5 260.3,90.5 260.5,91.6 260.6,92.7 260.4,93.8 260.4,94.9 260.7,96.0 260.7,97.1 260.7,98.2 260.8,99.3 260.9,100.4 261.2,101.5 261.3,102.6 261.2,103.7 261.5,104.8 261.4,105.9 261.6,107.0 261.8,108.1 261.8,109.2 262.1,110.3 262.0,111.4 262.1,112.5 262.1,113.6 262.4,114.7 262.4,115.8 262.4,116.9 262.1,118.0 262.3,119.1 262.5,120.2 262.2,121.4 262.7,122.5 262.6,123.6 262.5,124.7 262.6,125.8 262.8,126.9 262.8,128.0 262.7,129.1 262.8,130.2 262.8,131.3 262.9,132.4 262.7,133.6 262.8,134.7 263.1,135.8 263.1,136.9 262.7,138.0 263.1,139.1 263.3,140.2 263.2,141.3 263.1,142.4 262.9,143.5 263.2,144.6 263.0,145.8 263.0,146.9 263.4,148.0 263.1,149.1 263.0,150.2 263.2,151.3 263.2,152.4 263.3,153.5 263.1,154.6 263.1,155.8 263.5,156.9 263.3,158.0 263.4,159.1 263.3,160.2 263.4,161.3 263.6,162.4 263.6,163.5 263.7,164.5 263.6,165.6 263.5,166.7 263.5,167.8 263.6,168.9 263.7,170.0 264.1,171.0 264.0,172.1 263.9,173.2 264.1,174.3 264.0,175.4 263.9,176.5 264.3,177.6 264.0,178.7 264.4,179.7 264.4,180.8 264.1,181.9 264.5,183.0 264.4,184.1 264.5,185.2 264.4,186.2 264.4,187.3 264.8,188.4 264.7,189.5 264.6,190.6 264.8,191.7 265.0,192.7 264.8,193.8 265.0,194.9 265.0,196.0 265.0,197.1 265.3,198.2 264.9,199.3 265.1,200.4 265.0,201.5 265.0,202.6 265.4,203.6 265.3,204.7 265.4,205.8 265.3,206.9 265.3,208.0 265.6,209.1 265.7,210.2 265.5,211.3 265.7,212.4 265.9,213.4 265.9,214.5 265.7,215.6 265.8,216.7 265.6,217.8 265.9,218.9 265.9,220.0 266.2,221.1 266.1,222.2 266.2,223.3 266.0,224.4 266.3,225.5 266.3,226.5 266.3,227.6 266.3,228.7 266.4,229.8 266.3,230.9 266.4,232.0 266.6,233.1 266.3,234.2 266.4,235.3 266.5,236.4 266.8,237.4 266.7,238.5 266.6,239.6 266.6,240.7 266.6,241.8 266.6,242.9 266.9,244.0 266.9,245.1 267.0,246.2 267.1,247.3 267.2,248.4 267.2,249.5 267.3,250.5 267.1,251.6 267.0,252.7 267.2,253.8 267.1,254.9 267.4,256.0 267.5,257.1 267.3,258.2 267.2,259.3 267.5,260.4 267.7,261.4 267.7,262.5 267.6,263.6 267.5,264.7 267.8,265.8 267.8,266.9 267.7,268.0 267.7,269.1 267.5,270.2 267.9,271.3 267.8,272.4 267.9,273.5 268.2,274.6 268.1,275.7 268.2,276.8 268.2,277.9 268.0,279.0 268.1,280.1 268.5,281.2 268.5,282.3 268.2,283.4 268.6,284.5 268.5,285.6 268.6,286.7 268.7,287.8 268.8,288.9 268.6,290.0 268.8,291.1 268.7,292.2 268.5,293.3 268.7,294.3 268.9,295.4 268.7,296.5 268.9,297.6 268.8,298.7 269.0,299.8 268.7,300.9 269.0,302.0 268.8,303.0 268.9,304.1 268.9,305.2 269.0,306.3 268.9,307.4 269.2,308.5 269.1,309.6 269.1,310.7 269.2,311.7 269.2,312.8 269.3,313.9 269.3,315.0 269.4,316.1 269.2,317.2 269.4,318.2 269.5,319.3 269.7,320.4 269.6,321.5 269.8,322.6 269.8,323.6 269.7,324.7 269.7,325.8 269.9,326.9 269.9,328.0 269.9,329.0 269.9,330.1 270.0,331.2 270.2,332.3 270.1,333.4 270.0,334.4 270.1,335.5 270.2,336.6 270.1,337.7 270.2,338.8 270.2,339.8 270.6,340.9 270.4,342.0 270.6,343.1 270.5,344.2 270.8,345.2 270.6,346.4 271.0,347.4 270.8,348.5 271.2,349.6 271.0,350.7 271.1,351.8 271.4,352.8 271.2,353.9 271.5,355.0 271.7,356.1 271.4,357.2 271.7,358.3 271.7,359.4 271.9,360.5 271.7,361.7 272.0,362.8 271.8,363.9 271.8,365.0 271.9,366.1 272.3,367.2 271.9,368.3 271.9,369.5 272.1,370.6 272.3,371.7 272.3,372.8 272.2,373.9 272.4,375.0 272.5,376.1 272.3,377.2 272.5,378.3 272.6,379.4 272.4,380.5 272.7,381.6 272.6,382.7 272.9,383.7 272.8,384.8 273.0,385.9 272.7,387.0 273.1,388.1 273.1,389.2 273.1,390.3 273.1,391.4 273.0,392.5 273.1,393.6 273.2,394.7 272.9,395.8 272.9,396.9 273.1,398.0 273.1,399.1 273.1,400.2 273.4,401.2 273.2,402.3 273.5,403.4 273.4,404.5 273.5,405.6 273.7,406.7 273.4,407.8 273.4,408.9 273.6,410.0 273.8,411.1 273.6,412.2 273.9,413.3 273.8,414.4 273.7,415.5 273.9,416.6 274.3,417.7 274.2,418.8 274.3,419.9 274.4,421.0 274.3,422.1 274.5,423.2 274.5,424.3 274.6,425.4 274.7,426.5 275.0,427.5 274.8,428.7 274.7,429.8 275.2,430.8 275.0,431.9 275.2,433.0 275.3,434.1 275.2,435.2 275.1,436.3 275.7,437.4 275.3,438.5 275.7,439.6 275.5,440.7 275.9,441.8 275.7,442.9 275.9,444.0 276.2,445.1 276.1,446.2 275.9,447.3 276.1,448.4 276.1,449.5 276.4,450.6 276.4,451.7 276.5,452.8 276.4,453.9 276.5,455.0 276.9,456.0 276.8,457.1 276.8,458.2 276.9,459.3 276.8,460.4 276.9,461.5 277.3,462.6 277.3,463.7 277.5,464.8 277.6,465.9 277.6,467.0 277.7,468.1 277.4,469.2 277.6,470.3 277.6,471.4 277.9,472.5 278.0,473.6 277.7,474.7 277.8,475.8 277.9,476.9 278.4,477.9 278.3,479.0 278.2,480.1 278.2,481.2 278.2,482.3 278.5,483.4 278.6,484.5 278.9,485.6 278.6,486.7 278.8,487.8 278.6,488.9 278.7,490.0 278.9,491.1 279.2,492.1 279.3,493.2 279.1,494.3 279.1,495.4 279.1,496.5 279.6,497.6 279.4,498.7 279.5,499.8 279.7,500.9 279.5,502.0 279.5,503.0 279.7,504.1 279.8,505.2 279.9,506.3 279.8,507.4 280.0,508.5 280.5,509.5 279.9,510.7 280.8,511.7 280.2,512.8 280.6,513.9 280.5,515.0 280.6,516.1 280.6,517.2 281.0,518.3 280.5,519.5 281.5,520.4 282.0,521.5 281.0,522.7 281.9,523.7 282.1,524.8 282.1,525.9 282.0,527.1 281.7,528.2 282.2,529.3 282.8,530.3 282.7,531.4 282.9,532.5 283.0,533.6 283.3,534.7 283.7,535.8 283.6,536.9 283.7,538.0 284.1,539.1 283.9,540.2 284.4,539.1 283.9,538.0 283.8,536.8 284.4,535.8 284.9,534.7 284.9,533.6 284.8,532.5 285.0,531.4 284.7,530.2 284.6,529.1 284.8,528.0 285.0,526.9 285.0,525.8 285.4,524.7 285.1,523.6 285.2,522.5 285.4,521.4 285.5,520.3 286.3,519.3 286.1,518.1 285.8,517.0 286.2,515.9 286.8,514.9 286.6,513.7 286.6,512.6 287.2,511.8 287.6,510.9 288.0,509.9 289.0,509.4 289.4,508.5 290.5,509.1 290.4,510.5 291.8,510.8 292.0,512.0 292.6,511.0 292.5,509.7 293.1,508.7 293.4,507.5 293.1,506.3 293.9,505.3 293.7,504.0 294.5,503.0 294.5,501.9 294.9,501.0 295.0,499.9 295.7,499.0 296.4,498.1 295.9,497.0 296.3,496.0 296.8,494.9 296.2,493.8 297.0,492.7 296.7,491.6 297.0,490.5 296.6,489.3 297.6,488.3 297.0,487.1 297.5,486.1 297.4,484.9 298.2,483.9 298.1,482.8 298.2,481.7 298.5,480.6 298.1,479.4 298.0,478.3 299.0,477.3 298.5,476.1 299.3,475.1 299.6,474.0 299.3,472.8 298.8,471.7 299.9,470.7 299.7,469.5 299.4,468.4 299.5,467.3 300.0,466.2 299.7,465.1 300.7,464.1 300.4,462.9 300.8,461.9 301.1,460.8 300.7,459.7 301.5,458.7 300.7,457.5 301.6,456.6 301.2,455.4 301.0,454.3 301.3,453.3 301.5,452.2 302.4,451.2 302.1,450.1 302.3,449.1 302.5,448.0 302.8,447.0 302.6,445.8 303.1,444.8 303.3,443.7 303.6,442.7 303.6,441.6 303.9,440.6 304.1,439.5 304.2,438.4 304.2,437.3 304.3,436.2 304.6,435.2 304.4,434.1 304.8,433.0 304.5,432.0 304.8,430.9 304.8,429.8 304.6,428.7 304.7,427.6 305.1,426.6 305.0,425.5 305.2,424.4 305.2,423.3 304.9,422.2 305.2,421.2 304.9,420.1 305.2,419.0 305.2,417.9 305.3,416.8 305.6,415.8 305.5,414.7 305.4,413.6 305.6,412.5 305.7,411.4 305.6,410.4 305.8,409.3 306.1,408.2 306.2,407.1 306.2,406.0 305.9,404.9 306.4,403.9 306.2,402.8 306.5,401.7 306.2,400.6 306.3,399.5 306.7,398.5 306.6,397.4 306.6,396.3 306.6,395.2 307.0,394.2 307.4,393.1 307.4,392.0 307.3,390.9 307.8,389.9 307.8,388.8 307.9,387.7 307.9,386.6 308.3,385.5 308.6,384.4 309.2,383.4 309.3,382.3 309.7,381.2 310.3,380.2 310.5,379.2 311.0,378.2 311.2,377.1 311.6,376.0 312.1,375.0 312.4,374.0 312.3,372.9 312.3,371.8 312.5,370.7 312.7,369.6 312.4,368.5 312.7,367.5 312.7,366.4 312.8,365.3 312.6,364.2 312.9,363.1 312.8,362.0 312.8,360.9 312.6,359.8 312.8,358.7 312.6,357.6 313.0,356.6 312.8,355.5 312.8,354.4 312.9,353.3 313.0,352.2 313.0,351.1 313.0,350.0 313.1,348.9 313.2,347.8 313.1,346.7 313.1,345.6 313.3,344.5 312.9,343.4 313.0,342.4 313.1,341.3 313.1,340.2 313.5,339.1 313.3,338.0 313.3,336.9 313.5,335.8 313.8,334.7 314.1,333.6 314.5,332.5 314.7,331.4 314.9,330.3 315.0,329.2 315.1,328.1 315.8,329.0 316.2,329.9 316.5,331.0 317.2,330.5 317.8,329.9 317.9,330.9 318.4,331.9 318.2,333.0 318.7,334.0 318.9,335.0 319.1,336.0 319.6,336.9 319.6,338.0 319.8,339.1 319.5,340.2 319.9,341.3 320.0,342.4 320.0,343.4 319.8,344.6 320.1,345.6 320.2,346.7 320.2,347.8 320.2,348.9 320.1,350.0 320.4,351.1 320.1,352.2 320.1,353.3 320.3,354.4 320.7,355.4 320.6,356.5 320.4,357.6 320.5,358.7 320.9,359.8 320.8,360.9 320.9,362.0 320.7,363.1 321.1,364.2 321.1,365.3 320.9,366.4 320.9,367.5 321.4,368.5 321.1,369.6 321.2,370.7 321.1,371.8 321.4,372.9 321.4,374.0 321.2,375.1 321.7,376.2 321.8,377.3 321.9,378.3 321.8,379.5 322.1,380.5 322.1,381.6 322.2,382.7 322.4,383.8 322.0,384.9 322.4,386.0 322.2,387.1 322.4,388.2 322.7,389.3 322.4,390.4 323.0,391.4 322.6,392.6 323.1,393.6 323.1,394.7 323.0,395.8 323.4,396.9 323.1,398.0 323.5,399.1 323.2,400.2 323.7,401.3 323.5,402.4 323.8,403.4 323.8,404.5 323.8,405.6 323.9,406.7 324.0,407.8 323.9,408.9 324.1,410.0 324.3,411.1 324.4,412.1 324.2,413.2 324.5,414.3 324.2,415.4 324.6,416.5 324.6,417.6 324.9,418.6 325.0,419.7 325.0,420.8 324.8,421.9 324.9,423.0 324.8,424.1 325.1,425.1 325.1,426.2 325.3,427.3 325.5,428.3 325.4,429.4 325.4,430.5 325.4,431.6 325.4,432.7 325.5,433.8 325.7,434.8 325.8,435.9 325.9,437.0 326.0,438.1 326.1,439.2 326.0,440.4 326.2,441.5 326.1,442.6 326.4,443.7 326.4,444.9 326.3,446.0 326.5,447.1 326.6,448.3 326.7,449.4 326.6,450.5 326.8,451.6 327.1,452.7 327.1,453.9 327.1,455.0 327.1,456.1 327.5,457.2 327.4,458.4 327.2,459.5 327.6,460.6 327.6,461.7 327.6,462.8 327.5,464.0 327.7,465.1 327.8,466.2 328.1,467.3 328.1,468.4 328.1,469.5 328.3,470.7 328.2,471.8 328.4,472.9 329.0,473.9 328.9,475.1 329.3,476.2 329.8,477.2 330.6,478.1 330.5,479.3 330.6,480.5 330.6,481.6 331.3,482.6 331.1,483.7 332.0,484.7 332.4,485.7 332.5,486.8 331.7,488.0 332.3,489.0 333.1,490.0 332.6,491.2 332.5,492.3 333.1,493.3 333.8,494.3 333.1,495.5 333.6,496.5 334.4,497.4 333.9,498.6 334.4,499.6 334.5,500.7 335.0,501.7 335.2,502.8 335.2,503.9 335.4,505.0 335.4,506.1 335.6,507.1 335.2,508.3 336.3,509.3 336.3,510.4 335.5,511.5 336.0,512.6 336.1,513.7 336.2,514.8 336.8,515.8 336.7,516.9 337.1,518.0 337.2,519.0 336.4,520.2 336.8,521.3 336.7,522.4 337.9,523.3 337.2,524.5 337.7,525.6 337.6,526.7 337.5,527.8 338.4,528.8 338.1,529.9 338.1,531.0 338.1,532.1 337.9,533.2 338.4,534.2 338.7,535.3 338.5,536.4 338.6,537.4 339.0,538.5 338.8,539.6 339.3,540.6 339.7,541.6 339.4,542.7 339.8,543.8 339.4,544.9 339.5,546.0 339.2,547.1 339.4,548.1 339.5,549.2 339.3,550.3 340.0,551.3 339.8,550.2 340.1,549.1 340.0,548.0 340.0,546.9 340.6,545.9 340.7,544.8 340.4,543.6 341.5,542.7 341.6,541.6 340.7,540.4 340.7,539.3 340.9,538.2 341.8,537.2 342.1,536.1 341.3,534.9 341.9,533.9 342.9,534.6 342.7,535.8 343.3,536.7 344.1,537.5 344.5,538.5 344.7,539.5 344.8,540.6 345.2,539.7 346.0,539.2 346.8,538.7 347.0,539.8 347.6,540.8 347.9,541.9 348.2,543.0 347.7,544.3 348.7,545.2 348.7,546.4 348.9,545.4 349.0,544.3 349.0,543.2 349.3,542.2 349.0,541.0 349.4,540.0 350.1,539.0 350.4,538.0 349.9,536.9 350.0,535.8 350.6,534.8 351.2,533.7 350.5,532.5 351.5,531.5 351.7,530.4 351.0,529.1 352.0,528.1 351.4,526.9 351.4,525.7 351.8,524.6 352.1,523.5 352.5,522.4 352.6,521.3 353.1,522.2 353.1,523.4 353.7,524.3 354.7,525.0 355.0,526.0 354.8,527.2 355.5,528.1 356.5,528.8 356.2,530.3 356.9,531.2 358.1,531.8 358.4,532.9 358.3,531.8 358.4,530.7 358.7,529.6 358.7,528.4 358.5,527.3 358.9,526.2 359.0,525.1 359.3,524.0 359.6,523.0 360.2,521.9 360.1,520.8 360.2,519.7 360.6,518.6 360.2,517.4 360.4,516.3 360.3,515.2 361.1,514.2 361.3,513.1 361.5,512.0 361.3,510.8 361.3,509.7 362.3,509.2 363.2,509.2 364.2,509.7 364.9,508.7 365.3,507.7 365.2,506.5 366.0,505.5 366.3,504.5 366.4,503.3 366.3,502.1 366.7,501.1 367.1,500.0 367.4,501.1 367.5,502.2 367.6,503.4 368.3,504.4 368.3,505.6 368.4,506.7 368.1,507.9 367.9,509.1 368.3,510.2 369.1,511.2 368.9,512.4 369.0,513.5 369.0,514.6 369.7,515.7 369.9,516.8 369.4,517.9 370.0,519.0 369.7,520.2 370.4,521.2 369.7,522.4 370.5,523.4 370.5,524.6 370.5,525.7 370.3,526.8 370.4,528.0 371.0,529.0 371.6,528.0 371.6,526.9 371.0,525.8 371.3,524.7 371.9,523.7 372.6,522.8 372.5,521.7 372.0,520.5 372.4,519.5 373.3,518.5 372.9,517.4 373.2,518.5 373.0,519.6 373.3,520.7 373.6,521.7 374.1,522.7 374.3,523.8 374.9,524.7 375.5,525.7 374.8,527.0 376.1,527.8 375.8,529.0 376.0,527.8 376.8,526.8 377.6,525.9 377.1,524.5 377.6,523.4 378.7,522.5 378.7,521.3 379.6,520.5 380.6,519.9 381.6,519.4 381.8,518.4 381.7,517.3 383.1,516.6 383.1,515.5 382.6,514.3 383.5,513.5 383.4,512.3 383.7,511.2 384.3,510.3 385.2,509.4 384.7,508.0 385.1,507.0 385.5,506.0 386.1,505.0 386.4,503.9 387.2,502.9 387.0,501.7 387.7,500.7 387.6,499.5 387.7,498.3 388.5,497.3 388.4,496.1 388.5,497.2 388.8,498.2 388.9,499.3 389.3,500.3 389.3,501.4 389.9,502.3 390.0,503.4 389.5,504.6 390.4,505.5 390.5,506.6 390.3,507.7 390.7,506.8 391.5,506.3 392.3,505.8 391.9,504.7 392.3,503.6 392.7,502.6 392.9,501.5 393.3,500.5 392.4,499.3 393.2,498.3 392.8,497.1 393.1,496.1 393.4,495.0 393.9,494.0 393.8,492.9 394.3,491.8 393.2,490.7 393.7,489.6 394.0,488.6 393.5,487.4 394.2,486.4 393.8,485.3 394.4,484.3 394.8,483.2 394.5,482.1 394.6,481.0 395.0,480.0 395.7,479.1 395.7,478.0 396.3,477.0 396.1,475.9 396.1,474.8 396.2,476.0 397.0,476.8 397.6,477.7 398.1,478.7 398.1,477.6 397.7,476.4 397.8,475.3 398.6,474.3 398.9,473.2 398.0,472.0 398.3,470.9 398.5,469.8 398.6,468.7 399.3,467.6 398.6,466.5 398.8,465.3 399.1,464.2 399.7,463.2 399.0,462.0 399.5,460.9 399.4,459.8 398.9,458.7 399.4,457.6 400.0,456.6 399.2,455.4 399.4,454.3 399.8,453.3 399.8,452.2 399.8,451.1 399.9,450.0 400.0,448.9 399.6,447.8 399.7,446.7 399.8,445.6 400.0,444.6 400.1,443.5 400.5,442.4 400.0,441.3 400.1,440.2 400.6,439.1 400.8,438.0 399.9,436.9 400.6,435.9 400.0,434.7 400.7,433.7 399.9,432.6 400.5,431.5 400.5,430.4 401.2,431.2 401.8,432.0 402.7,432.6 403.5,431.6 403.6,430.5 403.6,429.3 403.8,428.2 403.5,427.0 404.4,426.0 404.7,424.9 404.9,423.8 405.5,423.0 405.7,421.9 406.3,421.1 406.5,420.1 407.2,419.3 407.4,418.2 407.6,417.1 407.6,416.0 407.8,414.9 408.0,413.8 407.9,412.7 408.0,411.6 408.3,410.5 408.5,409.4 408.4,408.3 408.3,407.2 408.5,406.1 408.8,405.0 408.9,403.9 408.8,402.8 409.1,401.7 408.8,400.5 409.0,399.4 408.8,398.3 409.0,397.2 409.4,396.1 409.0,395.0 409.4,393.9 409.4,392.8 409.5,391.7 409.8,390.6 409.8,389.5 409.5,388.4 409.6,387.3 410.0,386.2 409.7,385.1 409.7,383.9 410.2,382.9 410.1,381.7 410.0,380.6 410.2,379.5 410.2,378.4 410.2,377.3 410.3,376.2 410.2,375.1 410.5,374.0 410.5,372.9 410.8,371.8 410.8,370.7 411.0,369.6 410.8,368.5 410.9,367.4 410.9,366.2 411.5,365.2 411.2,364.0 411.4,362.9 411.6,361.8 411.8,360.7 411.8,359.6 411.9,358.5 412.1,357.4 412.1,356.3 412.2,355.2 413.1,354.2 413.8,353.0 414.3,354.1 414.3,355.3 414.9,356.3 415.1,357.5 415.3,358.6 415.8,357.5 416.4,356.4 416.7,357.5 416.7,358.6 416.6,359.7 417.1,360.8 417.2,361.9 416.9,363.0 417.3,364.1 417.4,365.2 417.3,366.3 417.5,367.4 417.9,368.5 417.8,369.6 418.1,370.7 417.9,371.8 418.2,372.9 418.3,374.0 418.3,375.1 418.7,376.2 418.4,377.4 418.9,378.4 418.7,379.6 419.0,380.7 418.9,381.8 419.4,382.9 419.3,384.0 420.0,385.0 420.4,386.2 420.8,387.4 421.5,388.4 422.1,389.5 422.6,390.6 423.3,391.6 423.7,392.8 424.1,393.9 424.6,395.0 424.9,396.2 425.5,397.2 425.5,398.3 425.7,399.4 426.0,400.5 426.1,401.6 425.7,402.8 426.0,403.8 426.3,404.9 426.1,406.1 426.5,407.1 426.5,408.3 426.3,409.4 426.8,410.5 426.9,411.6 427.0,412.7 427.1,413.8 427.0,414.9 427.2,416.0 427.4,417.1 427.5,418.2 427.8,419.3 427.7,420.4 427.9,421.5 427.9,422.7 428.2,423.7 428.3,424.9 428.5,426.0 428.5,427.1 428.9,428.2 428.9,429.3 429.0,430.4 429.2,431.5 429.3,432.6 429.4,433.7 429.6,434.8 429.8,435.9 429.7,437.0 429.8,438.2 430.1,439.2 430.2,440.4 430.3,441.5 430.6,442.5 430.6,443.7 430.8,444.8 431.0,445.9 431.1,447.0 431.2,448.1 431.5,449.2 431.5,450.3 431.8,451.3 431.9,452.4 431.8,453.5 432.1,454.5 431.8,455.6 431.8,456.7 432.0,457.7 432.7,458.7 432.6,459.8 432.7,461.2 434.0,461.9 434.4,463.1 434.8,462.1 435.6,461.3 436.2,460.4 436.5,459.4 437.4,458.7 437.7,457.6 437.5,458.8 438.5,459.8 438.8,460.8 438.8,462.0 438.7,463.2 439.0,464.3 439.9,465.3 439.9,466.4 439.5,467.7 439.7,468.8 440.4,469.8 440.4,471.0 441.0,472.0 442.0,471.4 442.1,470.0 442.6,469.0 443.8,468.6 444.4,467.6 444.8,468.7 444.6,469.9 445.3,470.9 445.4,472.0 445.2,473.2 446.3,474.1 446.2,475.3 446.7,476.4 446.5,477.6 446.5,478.7 446.4,479.9 446.9,480.9 447.9,481.9 447.7,483.1 448.0,482.1 448.5,481.1 449.0,480.2 449.4,479.2 450.1,478.4 450.4,477.4 449.9,476.1 450.2,475.0 451.0,474.2 452.2,474.0 452.5,472.6 454.0,472.7 454.2,471.2 455.4,470.9 455.7,472.0 456.7,472.9 457.1,474.0 457.3,475.2 457.6,476.4 457.5,477.6 457.8,478.7 458.5,479.7 459.0,480.7 459.0,481.9 459.4,483.0 459.6,484.1 459.5,485.3 459.8,486.4 459.5,487.6 460.8,488.5 460.5,489.7 460.7,490.8 461.0,491.9 461.8,492.9 461.9,494.1 462.5,495.1 462.0,496.5 463.0,497.4 463.2,498.6 464.1,499.5 464.0,500.8 464.3,501.9 464.2,503.1 464.8,504.2 465.4,505.2 465.2,504.0 466.2,503.1 465.3,501.8 466.3,500.8 465.6,499.6 466.7,498.6 466.1,497.4 467.0,496.4 467.2,495.3 467.3,494.2 466.7,493.0 467.2,491.9 467.0,490.7 467.6,489.7 467.6,490.9 467.6,492.1 468.4,493.0 468.5,494.2 468.8,495.3 469.7,496.3 469.7,497.5 469.8,498.6 470.3,499.5 470.3,500.7 471.0,501.5 471.4,502.5 471.6,503.5 472.3,504.3 472.9,505.3 473.0,506.3 473.1,507.4 473.3,506.2 474.6,505.8 475.1,504.7 475.9,504.0 476.5,503.0 476.7,504.1 477.6,505.1 477.0,506.4 477.3,507.5 478.6,508.4 478.4,509.6 478.3,510.9 479.0,511.8 478.8,513.1 479.3,514.2 479.8,515.2 480.3,514.3 480.9,513.4 481.1,512.3 481.2,511.2 480.9,510.0 481.7,509.2 482.3,508.3 482.5,507.2 482.9,506.2 483.1,505.2 484.0,505.6 484.5,506.6 485.7,506.6 486.4,507.4 486.7,508.4 487.4,509.3 488.2,510.1 488.8,511.0 489.2,512.0 489.5,513.0 489.7,514.1 490.4,515.0 491.5,515.5 492.2,516.4 492.1,517.8 493.1,518.5 493.3,519.7 494.5,520.2 495.1,521.1 495.6,522.1 496.4,522.9 496.1,521.7 496.9,520.7 497.2,519.6 497.7,518.6 497.6,517.4 497.7,516.3 497.7,515.1 498.5,514.1 498.3,512.9 498.4,511.8 498.9,510.8 498.8,509.6 498.6,508.4 499.4,507.4 499.9,506.4 499.7,505.2 500.2,506.1 500.9,507.0 501.2,508.0 500.7,509.3 502.0,510.0 501.7,511.2 502.7,512.0 502.6,513.1 503.0,514.1 502.7,515.3 503.6,516.3 503.7,517.4 503.5,518.5 503.6,519.6 503.8,520.7 504.2,521.8 504.7,522.9 504.2,524.1 504.7,525.1 504.5,526.3 504.8,527.4 505.2,528.5 504.5,529.7 505.2,530.7 505.3,529.5 506.4,528.6 506.1,527.3 506.5,526.3 506.5,525.1 506.7,523.9 507.4,522.9 507.8,521.8 507.7,520.7 508.0,519.6 507.7,518.4 508.2,517.4 508.6,516.3 508.9,515.2 508.9,514.1 508.8,512.9 509.3,511.9 509.3,510.7 509.3,509.6 509.7,508.5 509.7,507.4 510.3,508.4 510.9,509.5 511.2,510.6 510.6,512.0 511.1,513.1 511.9,514.1 512.6,513.2 512.3,512.0 513.3,511.2 513.5,510.2 513.6,509.1 513.7,508.0 513.8,507.0 515.1,506.3 515.4,505.3 515.2,504.1 515.1,505.3 515.9,506.3 515.8,507.5 515.9,508.7 516.7,509.7 517.4,510.6 516.7,512.0 517.6,513.0 517.6,514.2 518.1,515.2 518.5,516.3 518.4,515.1 519.2,514.3 519.1,513.1 519.7,512.2 520.9,511.5 520.9,510.4 521.1,509.4 521.0,508.2 521.8,507.4 521.9,508.5 522.3,509.5 522.6,510.5 522.8,511.5 522.9,512.6 523.7,513.4 523.8,514.5 524.2,515.5 524.5,516.5 524.7,517.6 525.2,518.5 525.8,517.6 526.6,517.0 527.4,516.5 528.5,516.3 529.2,517.3 528.7,518.5 529.1,519.6 528.6,520.7 529.5,521.7 529.7,522.8 528.9,524.0 530.0,525.0 529.8,526.1 529.5,527.3 529.8,528.3 530.2,529.4 530.5,530.5 530.1,531.6 530.6,532.7 530.0,533.9 530.9,534.9 530.7,536.0 531.5,535.1 530.7,533.7 531.7,532.8 531.6,531.6 532.1,530.6 532.4,529.5 533.1,528.6 532.6,527.3 533.3,526.3 534.0,525.5 533.7,524.3 534.8,523.7 535.4,522.9 535.5,521.8 536.3,521.2 537.4,521.1 538.0,520.0 538.9,519.6 539.3,520.7 538.9,521.9 539.0,523.0 539.4,524.1 540.3,525.1 539.7,526.3 540.6,527.3 540.2,528.5 541.1,529.5 541.4,530.6 541.6,531.7 541.3,532.9 541.2,534.1 542.0,535.1 542.2,536.2 542.2,535.1 543.2,534.4 543.9,533.5 544.2,532.5 543.7,531.2 544.5,530.3 545.4,529.6 545.5,528.5 546.2,529.3 546.8,530.1 547.7,530.5 548.8,530.7 548.7,531.9 549.1,533.0 549.8,534.0 550.4,535.0 549.9,536.3 550.5,537.3 550.3,538.6 551.4,539.5 550.9,540.8 551.4,541.8 551.4,543.0 552.1,544.0 552.6,542.9 552.6,541.8 553.0,540.7 552.8,539.4 553.2,538.4 553.9,537.3 553.7,536.1 554.4,535.1 554.4,534.0 554.8,532.9 554.9,531.8 555.4,530.7 555.0,529.6 555.3,528.5 555.3,527.3 555.8,526.3 555.8,525.2 556.3,524.1 555.5,522.9 555.6,521.8 555.9,520.7 556.5,519.6 556.6,518.5 556.6,517.4 557.2,518.4 557.4,519.6 557.3,520.8 558.0,521.8 557.6,523.0 558.7,523.9 558.2,525.2 559.2,526.2 558.8,527.4 559.0,528.6 559.1,529.7 559.9,530.7 559.8,532.0 561.2,532.7 560.8,534.1 560.9,535.3 561.4,536.3 562.1,537.3 562.4,536.3 563.1,535.4 563.0,534.3 563.9,533.5 563.8,532.4 564.8,531.6 564.1,530.3 565.1,529.5 565.4,528.5 566.1,529.5 565.7,530.8 565.8,531.9 566.6,532.9 566.5,534.1 567.5,535.0 568.0,536.1 567.4,537.4 568.2,538.4 568.9,539.4 568.7,540.6 569.1,539.5 569.5,538.5 568.7,537.2 569.5,536.2 569.4,535.1 569.2,533.9 569.4,532.8 569.6,531.7 570.1,530.7 570.2,529.6 570.7,528.5 571.0,527.4 571.0,526.3 570.8,527.5 570.9,528.6 571.9,529.6 571.5,530.7 571.4,531.9 572.3,532.9 572.1,534.1 571.8,535.2 572.4,536.3 572.5,537.4 573.1,538.4 572.5,539.7 572.9,540.7 573.6,541.7 573.8,542.8 574.4,543.9 574.0,545.1 573.7,546.3 574.3,547.3 574.9,546.3 574.4,545.0 574.8,543.9 574.9,542.8 575.3,541.7 575.5,540.6 575.7,539.5 576.4,538.5 577.1,537.4 577.3,536.3 577.2,535.1 577.1,534.0 577.6,532.9 577.5,534.2 578.7,535.0 579.2,536.0 579.4,537.2 579.1,538.5 579.8,539.5 580.3,538.5 580.0,537.3 580.2,536.1 580.9,535.1 581.0,534.0 581.6,533.0 581.4,531.8 581.2,530.6 581.4,529.5 581.8,528.4 582.4,527.4 582.9,526.4 582.9,525.2 583.1,524.1 583.9,525.1 583.0,526.4 583.8,527.4 584.0,528.5 584.6,529.5 584.8,530.6 585.0,531.7 584.8,532.9 584.7,534.1 585.6,535.0 585.8,536.2 586.1,537.2 586.6,538.3 586.8,539.4 586.5,540.6 587.1,539.6 587.7,538.6 586.9,537.1 587.3,536.1 588.0,535.1 588.2,533.9 588.7,532.9 589.3,533.9 588.8,535.2 589.9,536.1 590.2,537.2 589.6,538.6 590.2,539.6 590.4,540.7 590.7,541.8 591.7,542.7 590.9,544.1 592.3,545.0 592.0,546.2 592.6,547.2 592.5,548.4 592.4,549.6 592.5,550.8 593.8,551.6 593.9,552.7 594.3,553.8 594.5,555.0 593.8,556.3 595.0,557.2 594.7,558.4 595.4,559.4 595.3,560.6 595.0,559.4 595.6,558.3 595.8,557.2 596.4,556.2 597.0,555.2 596.9,554.0 597.1,552.9 597.1,551.7 597.2,550.5 597.8,549.5 598.0,548.4 598.8,547.4 598.6,546.2 599.2,547.1 599.7,548.1 600.0,549.2 600.0,550.3 600.4,551.3 600.5,552.4 600.3,553.6 600.7,554.5 601.2,555.5 601.2,556.6 601.5,557.7 602.7,558.5 602.3,559.7 603.2,560.5 603.1,561.7 603.2,560.6 603.4,559.5 603.4,558.3 603.4,557.2 603.8,556.1 604.6,555.1 605.1,554.1 605.2,552.9 604.4,551.6 605.2,550.7 605.0,549.5 605.6,548.4 605.8,547.3 605.6,546.1 605.7,545.0 606.4,544.0 606.6,545.1 607.3,546.1 606.5,547.4 606.7,548.5 607.9,549.4 607.1,550.7 607.3,551.8 608.4,552.8 607.9,554.0 608.3,555.1 608.8,556.1 608.2,557.3 608.7,558.4 608.6,559.5 608.6,560.7 608.8,561.8 609.3,562.8 609.7,563.9 610.4,562.9 609.7,561.6 610.2,560.5 610.6,559.5 610.9,558.4 611.0,557.2 611.7,556.2 611.7,555.1 612.2,554.0 612.0,552.8 612.8,551.8 612.4,550.6 613.3,549.6 613.0,548.4 613.4,549.4 614.1,550.2 614.3,551.3 615.3,552.0 615.2,553.2 615.7,554.1 616.3,555.0 616.9,554.0 616.3,552.7 616.9,551.7 617.4,550.6 617.0,549.4 618.1,548.4 618.5,547.4 618.4,546.2 618.8,545.1 619.2,544.0 618.9,542.8 619.2,541.7 619.9,540.7 619.7,539.5 619.8,540.7 620.5,541.7 620.4,542.9 620.5,544.0 620.7,545.1 621.8,546.0 622.0,547.2 621.7,548.4 621.9,549.5 622.2,550.6 622.7,551.7 623.0,552.8 623.2,551.7 624.1,550.9 623.6,549.6 623.9,548.6 623.9,547.5 624.3,546.5 625.2,545.6 625.5,544.6 625.3,543.4 626.2,542.5 625.8,541.3 626.4,540.4 627.0,539.4 627.4,538.4 627.4,537.3 627.8,536.3 628.7,535.6 628.8,534.5 629.5,533.6 630.1,532.8 630.3,531.7 630.7,530.7 630.8,531.8 630.6,533.0 631.9,533.9 632.1,535.0 632.3,536.1 632.2,537.3 632.1,538.5 632.3,539.6 632.4,540.7 633.4,541.7 632.6,543.0 633.6,543.9 632.9,545.2 633.9,546.2 633.5,547.4 634.1,548.4 634.7,549.3 636.0,549.5 636.3,550.6 637.1,551.2 637.3,552.5 638.5,552.8 638.4,551.6 638.8,550.6 638.8,549.5 638.8,548.3 639.7,547.4 640.0,546.3 639.7,545.1 640.7,544.2 640.2,542.9 641.2,542.0 641.1,540.9 641.7,539.8 641.3,538.6 642.0,537.6 642.0,536.5 642.3,535.4 642.2,534.3 642.5,533.2 642.9,534.2 643.6,535.0 643.9,536.0 643.7,537.3 645.0,537.8 644.6,539.2 645.1,540.1 646.2,540.8 646.2,541.9 646.6,540.9 647.5,540.2 647.6,539.1 648.1,538.2 648.6,537.2 648.7,536.1 650.1,535.6 650.0,534.4 650.1,535.5 651.1,536.2 651.4,537.2 651.4,538.4 651.6,539.4 652.4,540.2 653.1,541.1 653.4,542.1 653.7,543.1 654.6,543.5 655.4,544.2 656.4,544.3 657.4,544.4 658.1,545.3 658.7,546.2 658.4,547.4 659.2,548.3 658.9,549.5 660.1,550.2 659.5,551.5 660.1,552.4 661.1,553.2 661.2,554.3 660.8,553.1 661.9,552.2 661.2,551.0 661.5,549.9 661.9,548.9 661.8,547.8 661.9,546.7 662.6,545.7 662.9,544.7 663.2,543.6 662.5,542.4 662.7,541.3 663.4,540.3 663.8,539.3 663.4,538.2 664.0,537.2 663.6,536.0 664.7,535.1 664.8,534.0 665.1,532.9 664.6,531.8 664.9,530.7 665.7,531.6 665.2,532.9 666.0,533.7 666.4,534.7 666.7,535.8 666.7,536.9 667.0,537.9 667.7,538.8 668.2,539.8 668.7,540.8 668.6,541.9 668.5,540.7 669.9,540.0 670.4,539.0 669.8,537.6 670.8,536.8 671.1,535.7 670.9,536.9 671.6,537.9 671.5,539.1 672.8,539.9 672.4,541.2 672.6,542.3 673.7,543.2 673.6,544.4 673.4,543.3 674.5,542.4 673.9,541.2 674.5,540.2 675.0,539.2 675.0,538.1 675.3,537.1 674.9,535.9 675.7,535.0 675.1,533.8 675.6,532.8 675.9,531.8 676.1,530.7 676.1,531.8 677.2,532.7 677.4,533.7 677.4,534.9 677.9,535.9 677.3,537.2 678.2,538.1 678.3,539.2 678.7,540.2 678.5,541.4 678.7,542.4 679.1,543.5 679.8,544.4 680.7,545.1 680.6,546.3 680.9,547.4 681.3,548.4 682.1,549.1 682.7,550.0 683.5,550.8 683.6,551.9 683.2,550.7 683.3,549.6 683.8,548.6 684.5,547.6 684.2,546.4 684.5,545.3 684.4,544.2 685.3,543.2 685.4,542.1 684.8,540.9 685.1,539.8 684.9,538.7 685.4,537.6 685.4,536.5 686.1,535.5 685.7,534.3 686.3,533.3 685.7,532.1 686.7,531.1 686.7,530.0 686.5,528.9 687.2,527.8 687.4,526.8 687.6,525.7 687.3,524.5 688.0,523.6 688.2,522.5 688.9,521.5 689.6,520.6 689.8,519.5 690.3,520.6 689.9,521.8 690.2,522.9 690.6,524.0 690.7,525.2 691.8,526.1 691.2,527.4 691.9,528.4 691.8,529.6 692.3,530.7 692.9,529.8 693.0,528.7 693.8,527.9 694.3,527.0 694.9,526.1 694.2,524.7 695.6,524.1 695.9,523.1 696.0,522.0 696.2,523.1 696.4,524.2 697.2,525.2 697.5,526.2 698.3,527.2 697.7,528.6 698.5,529.5 699.0,528.4 698.8,527.3 699.0,526.2 699.3,525.2 698.7,524.0 699.3,523.0 699.6,521.9 699.5,520.8 700.1,519.7 699.4,518.6 700.0,517.5 700.2,516.4 699.9,515.3 700.6,514.3 700.1,513.1 699.9,512.0 700.1,510.9 700.5,509.9 701.3,508.8 701.3,507.7 701.4,506.6 701.2,505.5 701.2,504.4 701.4,503.3 701.5,502.2 702.0,501.2 701.5,500.0 701.6,498.9 702.1,497.9 702.3,496.8 702.4,495.7 702.2,494.6 702.8,495.6 702.3,496.8 702.9,497.9 703.1,499.0 703.2,500.1 703.7,501.1 703.7,502.2 703.2,503.4 703.2,504.5 704.1,505.5 703.3,506.8 704.0,507.8 703.8,508.9 704.8,509.9 704.9,511.0 704.2,512.2 705.2,513.2 705.4,514.3 704.8,515.5 705.7,516.5 705.4,517.7 705.0,518.8 706.0,519.8 705.3,521.1 705.4,522.2 706.0,523.2 706.7,522.2 706.3,521.0 706.7,520.0 706.0,518.8 706.6,517.8 707.1,516.7 707.2,515.6 706.4,514.5 707.3,513.5 706.9,512.3 707.2,511.2 707.6,510.2 707.6,509.1 707.3,508.0 708.0,506.9 708.2,505.8 708.1,504.7 707.3,503.6 707.4,502.5 708.2,501.5 707.7,500.3 707.8,499.2 708.8,498.2 708.5,497.1 708.4,495.9 709.0,495.0 709.4,494.0 710.5,493.3 710.9,492.3 711.0,491.2 711.0,490.1 711.0,488.9 712.4,488.3 712.2,487.1 712.9,488.0 712.9,489.3 713.1,490.4 713.9,491.3 713.9,492.5 714.7,493.4 715.6,492.7 715.5,491.5 716.3,490.7 716.1,489.4 716.9,488.7 717.7,487.9 717.7,486.7 718.4,485.9 718.8,484.9 719.7,484.3 719.7,483.1 720.9,482.6 720.7,481.3 721.3,480.4 722.1,479.7 722.8,478.9 723.1,477.8 724.3,477.4 724.5,476.3 724.9,475.3 725.9,474.7 726.8,474.1 727.3,473.1 728.2,472.5 728.5,471.3 729.6,470.9 729.5,469.7 730.2,468.9 730.9,468.0 731.0,466.9 731.4,465.9 732.5,465.3 732.3,464.0 732.8,463.1 733.4,462.2 734.0,461.2 734.3,460.2 734.3,459.1 733.7,457.9 734.6,456.9 734.0,455.7 735.0,454.8 734.5,453.6 734.7,452.5 735.1,451.5 734.9,450.4 735.7,449.4 736.1,448.4 736.1,447.3 736.4,446.3 735.8,445.1 736.1,444.0 737.0,443.1 736.5,441.9 737.2,440.9 737.1,439.8 737.4,438.7 737.1,437.5 737.4,436.5 738.4,435.5 738.6,434.4 738.4,433.3 737.9,432.1 738.1,431.0 738.9,430.0 739.5,428.9 739.4,427.8 739.3,426.7 738.9,425.6 739.7,424.5 738.7,423.4 739.5,422.3 739.6,421.2 739.3,420.1 739.9,419.0 739.2,417.9 740.2,416.8 740.2,415.7 739.5,414.6 739.8,413.5 740.3,414.5 740.0,415.7 740.8,416.7 740.8,417.8 741.2,418.9 741.6,417.8 742.0,416.8 741.9,415.7 741.5,414.5 741.7,413.5 741.5,412.4 742.5,411.4 742.7,410.3 742.0,409.1 742.5,408.1 742.9,409.0 743.4,409.8 743.8,410.7 743.9,411.7 744.5,412.7 743.9,413.9 743.5,415.0 744.5,416.0 743.9,417.1 743.9,418.2 744.3,419.3 744.0,420.4 744.5,421.4 744.4,422.5 745.1,423.6 745.0,424.6 744.6,425.7 744.3,426.8 744.8,427.9 744.8,426.8 745.5,425.7 745.0,424.6 745.0,423.5 745.5,422.4 745.8,421.4 745.8,420.3 745.6,419.1 745.2,418.0 745.4,416.9 745.7,415.9 745.2,414.7 745.6,413.6 746.2,412.6 745.7,411.4 746.2,410.4 745.9,409.3 745.8,408.1 746.1,407.1 746.2,406.0 746.2,404.9 746.3,403.8 746.6,402.7 747.3,401.7 747.1,400.6 747.2,399.5 747.1,398.4 747.4,397.3 748.2,396.4 747.8,395.2 748.2,394.2 748.8,395.3 748.6,396.4 748.4,397.6 748.3,398.8 748.6,399.9 749.1,400.9 749.6,402.0 748.9,403.2 750.1,404.2 749.7,405.4 749.7,406.5 749.4,407.7 750.3,408.7 750.2,409.8 750.6,410.8 750.6,411.9 751.1,413.0 750.6,414.2 750.6,415.3 751.4,416.3 751.7,417.4 751.6,418.5 751.5,419.6 751.5,420.7 751.5,419.6 752.0,418.5 751.8,417.4 751.3,416.2 751.4,415.1 752.0,414.1 751.8,413.0 752.7,411.9 752.7,410.8 752.9,409.7 752.7,408.6 752.4,407.5 753.1,406.4 752.6,405.3 752.6,404.2 752.5,403.0 753.1,402.0 753.3,400.9 754.0,400.0 753.9,398.9 754.0,397.9 753.9,396.8 754.2,395.8 754.9,394.9 754.6,393.8 754.3,395.0 755.4,395.9 755.3,397.0 755.7,398.0 756.0,399.1 757.0,399.8 757.5,400.9 758.2,401.8 757.9,400.6 758.9,399.6 758.5,398.4 759.0,397.4 759.3,396.3 758.8,395.1 759.8,394.1 760.0,392.9 759.5,391.7 759.2,390.6 760.0,389.5 760.0,388.4 760.5,387.3 760.3,386.0 761.2,385.1 760.9,383.8 761.2,382.7 761.8,381.6 762.8,381.4 763.6,382.1 763.7,383.1 763.8,384.2 764.0,385.2 764.7,386.1 765.0,387.1 765.5,388.1 765.6,389.1 765.4,390.2 766.0,391.3 766.3,392.5 766.3,393.8 765.9,392.7 766.4,391.6 766.0,390.5 766.7,389.4 766.2,388.3 766.8,387.2 766.5,386.1 766.7,385.0 767.4,384.0 766.8,382.8 767.7,381.8 767.7,380.7 767.8,379.6 767.7,378.5 768.0,377.4 768.4,376.3 768.0,375.0 768.5,373.9 768.2,372.7 769.0,371.7 770.1,372.5 770.3,373.8 770.8,374.9 770.9,376.1 770.6,377.3 771.0,378.4 772.1,379.4 771.3,380.8 772.1,381.8 772.2,383.0 772.5,384.0 772.9,385.0 773.2,386.1 772.9,387.2 773.0,388.3 772.8,389.4 773.2,390.4 773.9,391.4 773.6,392.5 773.5,393.6 774.0,394.6 774.7,393.5 775.8,392.9 775.7,391.7 775.9,390.5 776.9,389.5 776.1,388.2 776.9,387.1 776.8,385.9 777.1,384.8 777.1,385.9 777.6,386.9 778.1,387.9 777.6,389.1 778.2,390.1 778.5,391.1 779.3,392.0 779.3,393.1 779.7,394.2 779.7,395.3 779.8,396.4 780.4,397.4 780.0,398.6 780.2,399.7 780.7,400.7 781.0,401.8 780.7,402.9 781.2,403.9 780.9,405.1 781.0,406.2 781.6,407.2 782.3,408.3 783.4,409.0 783.9,410.3 785.4,410.6 786.1,411.7 785.8,412.8 786.5,413.7 786.1,414.8 786.5,415.8 787.0,416.8 787.1,417.8 787.0,418.9 786.7,420.1 787.3,421.1 787.8,422.2 787.4,423.4 788.1,424.4 788.3,425.5 788.2,426.6 787.7,427.8 788.5,428.8 788.3,430.0 788.0,431.2 789.1,432.1 788.9,433.3 789.4,434.3 788.7,435.5 788.9,436.6 788.9,437.7 789.0,438.8 789.0,440.0 789.6,441.0 789.8,442.1 790.0,443.2 789.9,444.3 790.2,445.4 790.7,446.4 790.5,447.5 790.7,448.6 790.3,449.8 791.4,450.7 791.0,451.9 791.6,450.9 791.8,449.9 792.4,448.9 792.3,447.8 792.7,446.8 792.4,445.5 793.5,444.7 792.9,443.4 793.8,442.6 793.6,441.4 794.0,440.4 794.6,439.4 794.5,440.5 795.0,441.5 794.7,442.6 795.4,443.6 795.7,444.7 795.5,445.8 795.5,446.9 795.2,448.0 795.3,449.1 796.0,450.1 795.4,451.2 796.0,452.2 796.6,453.2 796.3,454.4 796.2,455.4 796.3,456.5 797.1,457.5 796.2,458.7 796.9,459.7 797.6,460.7 797.4,461.8 797.3,462.9 797.3,464.1 798.5,464.8 798.6,465.9 798.5,467.1 799.5,467.9 799.2,469.2 799.6,470.2 800.1,471.2 801.0,471.7 801.2,472.9 802.6,472.9 802.9,474.0 803.4,475.0 802.9,476.3 803.3,477.3 804.0,478.4 803.9,479.5 803.6,480.7 804.5,481.7 804.9,482.8 804.5,484.0 805.1,485.0 804.7,486.2 805.4,487.2 805.6,488.3 805.3,489.5 805.6,490.6 805.2,491.8 805.9,492.8 805.5,493.9 805.6,495.0 806.1,496.1 806.5,497.1 806.8,498.2 807.4,499.2 807.0,500.3 807.5,501.4 807.2,502.5 807.6,503.6 807.6,504.7 807.7,505.8 807.9,506.8 807.6,508.0 808.2,509.0 808.9,510.0 808.1,511.2 808.4,512.3 809.0,513.3 809.1,514.4 809.2,515.5 809.4,514.4 809.4,513.3 809.9,512.3 810.5,511.3 809.5,510.0 810.7,509.1 811.0,508.0 811.0,506.9 810.7,505.7 811.1,504.7 811.0,503.6 811.1,502.5 811.0,501.4 811.2,500.3 811.7,499.3 811.7,498.1 811.7,497.0 812.4,496.0 812.2,494.9 813.0,493.9 812.3,492.7 812.6,491.6 813.1,490.6 813.3,491.7 813.8,492.7 813.2,493.9 813.7,494.9 814.4,495.9 814.4,497.0 814.0,498.2 814.6,499.2 814.7,500.3 815.0,501.4 815.4,502.4 814.7,503.6 815.3,504.6 815.6,505.7 815.9,506.8 815.6,507.9 815.5,509.0 815.4,510.2 815.6,511.2 816.8,512.2 816.4,513.3 816.6,514.4 816.7,515.5 817.1,516.4 817.7,517.3 817.6,518.5 818.4,519.2 819.0,520.0 819.4,521.0 820.4,520.2 820.5,518.9 820.4,517.6 821.6,516.9 822.5,516.1 822.7,514.9 822.8,513.6 823.6,512.7 823.4,513.8 824.6,514.7 823.8,516.0 824.9,516.9 824.3,518.1 825.3,519.0 825.5,520.0 825.6,521.1 825.5,522.3 825.5,523.4 826.0,524.4 826.7,525.3 826.4,526.5 826.9,527.5 827.8,528.0 829.0,528.0 830.0,528.3 830.5,529.3 830.8,530.3 830.4,531.6 830.7,532.6 831.8,533.5 832.0,534.6 831.3,535.9 832.3,536.8 832.1,537.9 832.0,539.1 832.4,540.1 832.6,541.2 833.1,542.2 833.1,543.3 834.0,544.2 833.4,545.5 834.5,546.4 834.8,547.4 834.6,548.6 835.2,547.6 835.8,546.6 835.8,545.5 836.0,544.4 835.7,543.1 836.5,542.2 836.4,541.0 837.1,540.0 837.3,538.9 837.3,537.8 838.1,536.8 838.7,535.8 838.9,534.7 838.5,533.5 839.8,532.7 840.1,531.6 839.7,530.3 840.2,529.3 840.4,530.6 841.9,530.9 842.3,532.0 842.6,533.2 844.0,533.6 844.3,534.8 845.4,535.3 846.7,535.6 847.5,536.7 847.6,535.5 848.1,534.6 849.1,533.7 849.2,532.6 849.0,531.4 849.9,530.5 849.7,531.6 849.9,532.7 850.6,533.7 851.0,534.7 850.5,535.9 850.4,537.0 851.4,538.0 851.4,539.1 851.6,540.1 851.0,541.3 852.3,542.2 852.5,543.3 852.4,544.4 852.3,545.5 852.4,546.6 853.1,545.6 852.2,544.4 853.3,543.5 853.1,542.3 853.8,541.4 854.0,540.3 853.9,539.2 853.5,538.0 854.5,537.1 853.6,535.9 854.9,535.0 854.4,533.8 854.4,532.7 854.9,531.7 854.7,532.8 855.3,533.8 855.7,534.8 856.0,535.8 856.0,536.9 856.4,537.9 856.3,539.0 856.6,540.0 857.1,541.0 857.6,542.0 857.6,543.1 857.4,544.2 858.0,543.2 858.2,542.0 858.7,541.0 858.1,539.7 859.3,538.8 859.5,537.6 859.2,536.4 860.2,535.4 859.9,534.2 861.1,533.9 861.7,533.0 862.2,532.0 863.2,531.6 863.6,530.5 864.3,531.5 864.6,532.6 865.0,533.6 864.6,534.9 864.6,536.1 865.8,536.9 866.2,538.0 866.1,539.2 865.8,540.3 866.0,541.4 867.1,542.3 867.4,543.4 867.3,544.5 867.4,545.5 867.9,546.6 867.9,547.6 867.3,548.8 868.4,549.8 868.1,550.9 868.0,552.0 868.2,553.1 868.6,554.1 868.8,553.0 869.0,552.0 869.8,551.2 870.1,550.2 870.6,549.2 870.8,548.2 871.5,547.3 872.4,546.6 872.3,545.4 873.2,546.3 873.2,547.4 872.8,548.7 873.5,549.6 873.4,550.8 874.5,551.6 873.8,552.9 875.2,553.7 874.6,555.0 875.5,555.9 875.3,557.1 875.5,558.1 876.1,559.1 876.8,558.3 877.5,557.5 877.2,556.1 878.3,555.5 878.5,554.5 878.5,553.3 879.0,552.4 879.8,551.6 879.7,550.4 881.0,549.8 880.7,548.6 881.1,547.6 881.2,546.5 882.4,545.8 882.5,544.7 882.4,543.6 883.5,542.8 883.5,541.7 883.7,542.8 883.7,543.9 884.1,545.0 884.6,545.9 885.0,547.0 884.6,548.2 885.7,549.1 886.1,550.1 885.5,551.4 885.9,552.4 885.9,553.5 886.5,554.5 886.4,555.7 887.2,556.6 887.5,555.6 887.6,554.5 888.6,553.8 888.6,552.6 889.2,551.7 889.6,550.7 890.0,549.7 890.6,548.9 891.0,547.9 891.1,549.0 891.9,549.9 891.1,551.2 891.9,552.1 891.6,553.3 892.3,554.3 892.7,555.3 892.6,556.4 892.9,557.4 893.0,558.5 892.8,559.6 892.9,560.7 893.7,561.7 893.5,562.8 893.9,561.8 894.0,560.7 893.6,559.5 894.3,558.5 893.8,557.4 894.7,556.4 894.4,555.2 895.0,554.2 895.5,553.2 895.4,552.1 895.4,551.0 895.6,549.9 895.4,548.8 895.8,547.8 895.5,546.6 896.2,545.6 896.9,544.7 896.5,543.5 897.0,542.5 897.3,541.4 897.1,540.3 897.2,539.2 898.1,539.9 897.6,541.3 898.6,542.0 899.1,542.9 900.0,543.6 899.7,544.9 900.1,545.9 900.9,546.6 901.2,545.6 901.1,544.4 901.9,543.6 901.6,542.4 902.1,541.4 902.2,540.3 902.8,539.4 903.2,538.4 903.4,537.3 903.2,536.2 903.5,535.2 904.1,534.2 904.5,535.3 904.2,536.4 903.7,537.5 904.2,538.6 904.0,539.7 905.0,540.8 905.1,541.9 904.6,543.0 905.0,544.1 905.0,545.2 904.6,546.4 905.4,547.4 904.5,548.6 905.1,549.6 905.0,550.8 905.7,551.8 905.8,552.9 905.1,554.1 905.9,555.1 905.3,556.3 905.7,557.4 905.8,558.5 905.1,559.6 905.3,560.7 906.0,561.8 906.0,562.9 905.9,564.0 905.9,562.9 905.9,561.7 907.1,560.8 906.9,559.6 907.2,558.5 907.0,557.4 907.0,556.2 907.7,555.2 907.4,554.0 908.4,553.1 908.7,552.0 908.9,550.9 908.2,549.6 908.5,548.6 909.4,547.6 909.1,546.4 909.5,545.3 909.6,544.2 909.5,545.3 910.3,546.3 910.1,547.5 910.7,548.5 910.9,549.6 910.0,550.8 910.4,551.9 910.7,552.9 911.4,553.9 911.4,555.0 910.8,556.2 910.9,557.3 911.5,558.4 911.3,559.5 912.1,560.5 912.1,561.6 912.7,560.6 912.7,559.5 912.3,558.3 913.2,557.3 912.3,556.1 912.8,555.1 913.2,554.0 913.9,553.0 913.4,551.8 913.2,550.7 914.1,549.7 914.2,548.6 913.7,547.5 914.6,546.5 914.4,545.3 914.6,544.3 915.4,543.3 915.4,542.2 915.7,541.1 915.6,540.0 915.3,538.8 915.5,537.8 915.8,536.7 916.4,537.7 916.8,538.9 916.5,540.1 917.1,541.1 916.8,542.4 917.5,543.4 917.4,544.6 917.1,545.8 917.9,546.8 917.6,548.1 918.3,549.1 918.2,548.0 918.2,546.9 919.0,545.9 918.9,544.8 919.3,543.8 919.4,542.7 919.4,541.6 919.5,540.5 919.5,539.4 920.5,538.5 919.8,537.2 920.3,536.2 920.9,535.2 921.0,534.1 920.8,533.0" fill="none" stroke="#e31a1c" stroke-width="3.2" stroke-linejoin="round" stroke-linecap="round"/>
<polyline points="180.0,565.8 181.3,565.3 182.1,564.4 182.5,563.0 183.8,563.4 184.6,564.3 184.7,566.0 185.9,566.5 186.7,565.6 187.1,564.6 187.2,563.4 188.0,562.6 188.5,561.6 189.0,560.6 189.4,559.5 190.5,559.0 191.7,559.4 192.8,559.5 193.2,558.5 194.2,557.9 195.0,557.2 195.0,556.0 196.0,555.3 196.0,554.1 196.3,553.1 196.5,552.1 196.7,551.0 197.7,550.3 198.7,551.1 198.4,552.3 199.0,553.2 199.2,554.2 199.4,555.3 200.3,556.3 201.6,556.4 202.7,556.2 203.8,555.9 204.3,556.8 205.2,557.5 205.5,558.6 205.8,557.4 206.8,557.0 207.7,556.4 208.7,556.8 208.8,557.9 209.4,558.6 210.5,558.2 210.7,557.1 210.7,555.9 211.6,555.3 212.6,554.4 213.1,553.3 213.5,552.1 213.8,550.9 213.7,552.1 214.3,553.0 214.6,554.0 215.4,554.8 216.0,554.1 217.3,554.2 217.7,553.1 218.7,552.2 217.9,550.7 219.1,549.9 219.3,548.7 219.3,547.5 219.8,546.4 220.0,545.3 220.4,544.2 221.6,544.2 222.3,543.1 223.2,542.6 224.0,541.7 223.7,540.5 224.8,539.7 225.1,538.6 224.9,537.4 225.4,536.4 226.2,535.5 226.0,534.3 226.5,533.3 226.3,532.1 226.1,531.0 226.6,530.0 226.5,528.9 227.1,527.9 226.4,526.7 227.6,525.7 226.8,524.6 227.8,523.6 227.0,522.4 228.0,521.4 227.8,520.3 227.6,519.2 227.7,518.1 228.0,517.0 228.0,516.0 227.7,514.8 227.7,513.7 228.2,512.7 228.9,511.7 228.6,510.6 227.9,509.4 229.0,508.4 228.7,507.3 229.1,506.3 229.5,505.2 228.7,504.0 229.6,503.0 228.7,501.8 229.7,500.8 229.3,499.7 229.4,498.6 230.4,497.6 229.5,496.4 230.2,495.4 230.8,494.3 230.4,493.2 230.4,492.0 230.7,490.9 231.9,490.1 231.6,488.8 232.0,487.8 231.9,488.9 233.1,489.7 232.9,490.8 233.4,491.8 233.0,492.9 234.0,493.7 233.7,494.9 233.2,496.0 234.6,497.0 233.7,498.1 234.8,499.1 234.6,500.2 233.9,501.3 235.0,502.3 235.1,503.4 234.5,504.5 235.0,505.5 235.6,506.5 234.4,507.7 235.7,508.7 235.3,509.8 236.3,510.7 236.2,512.0 236.4,513.2 236.7,512.1 237.0,511.0 236.3,509.8 236.8,508.7 236.5,507.6 237.3,506.5 237.9,505.5 238.0,504.4 237.8,503.2 238.5,502.2 238.4,501.1 238.7,500.0 238.6,498.9 238.4,497.8 238.2,496.7 238.9,495.7 238.5,494.6 238.4,493.4 239.0,492.4 239.7,491.4 238.8,490.2 239.5,489.2 239.4,488.1 239.7,487.1 239.3,485.9 239.9,484.9 240.9,484.0 240.3,482.6 241.1,481.7 241.2,480.5 241.7,479.5 242.6,480.3 242.2,481.5 243.0,482.4 243.4,483.4 243.7,484.4 243.8,485.5 243.6,486.6 244.3,487.6 243.7,488.8 244.0,489.8 243.4,490.9 243.6,492.0 243.6,493.1 244.8,494.0 244.6,495.1 245.0,496.1 244.7,497.3 244.8,498.3 244.6,499.4 244.9,500.5 245.3,501.5 245.8,502.6 245.7,503.7 245.7,504.8 246.6,505.8 246.7,507.0 246.3,508.1 246.8,509.2 246.1,510.4 246.9,511.4 247.3,512.5 247.3,513.6 247.0,514.8 247.7,515.6 248.2,516.6 248.2,517.7 248.7,516.8 249.0,515.8 249.2,514.8 249.9,514.0 250.5,513.1 250.3,511.9 251.6,511.2 252.1,510.2 251.9,509.0 252.7,508.3 252.9,507.3 253.5,506.5 254.0,505.7 254.4,504.6 254.0,503.3 254.8,502.3 255.2,501.1 255.5,500.0 255.4,498.9 255.5,497.8 255.9,496.7 255.8,495.5 256.0,494.4 256.3,493.4 256.2,492.2 256.2,491.1 256.6,490.0 256.4,488.9 256.3,487.8 256.7,486.7 256.5,485.5 256.7,484.4 257.1,483.3 257.1,482.2 256.9,481.1 257.2,480.0 257.2,478.9 257.3,477.8 257.4,476.7 257.3,475.6 257.6,474.5 257.4,473.4 257.6,472.4 257.7,471.3 258.0,470.2 257.7,469.1 258.1,468.0 257.9,466.9 258.1,465.8 258.1,464.7 258.2,463.6 258.4,462.6 258.3,461.5 258.3,460.4 258.3,459.3 258.4,458.2 258.8,457.1 258.8,456.0 259.0,454.9 259.0,453.8 258.7,452.7 259.1,451.6 259.2,450.6 259.3,449.5 259.2,448.4 259.2,447.3 259.3,446.2 259.6,445.1 259.5,444.0 259.4,442.9 259.6,441.8 259.6,440.7 259.9,439.6 259.9,438.5 260.0,437.4 260.0,436.3 259.8,435.2 259.8,434.1 260.0,433.0 260.0,431.9 260.1,430.8 260.3,429.7 260.4,428.6 260.3,427.5 260.5,426.4 260.2,425.3 260.4,424.2 260.7,423.1 260.4,422.0 260.6,420.9 260.4,419.8 260.5,418.7 261.0,417.6 261.1,416.5 260.9,415.4 260.7,414.3 260.9,413.2 260.9,412.1 261.2,411.0 261.2,409.9 261.1,408.8 261.2,407.7 261.1,406.6 261.4,405.5 261.6,404.4 261.6,403.3 261.3,402.2 261.6,401.1 261.6,400.0 261.8,398.9 261.6,397.8 262.0,396.7 261.8,395.7 262.0,394.6 261.9,393.5 262.2,392.4 262.2,391.3 262.1,390.2 261.9,389.1 262.1,388.0 262.0,386.9 262.3,385.9 262.5,384.8 262.2,383.7 262.4,382.6 262.5,381.5 262.5,380.4 262.7,379.4 262.9,378.3 262.8,377.2 262.7,376.1 262.8,375.0 263.1,373.9 262.8,372.8 263.0,371.7 263.0,370.6 263.0,369.5 263.1,368.4 262.8,367.3 263.0,366.2 262.9,365.1 263.1,364.0 263.3,362.9 263.1,361.8 262.8,360.7 263.1,359.6 263.2,358.5 263.3,357.4 263.2,356.3 263.3,355.2 262.9,354.1 263.4,353.0 263.3,351.9 263.3,350.8 263.5,349.7 263.5,348.6 263.1,347.5 263.5,346.4 263.5,345.3 263.2,344.2 263.5,343.1 263.4,342.0 263.5,340.9 263.4,339.8 263.7,338.7 263.4,337.6 263.7,336.5 263.7,335.5 263.7,334.4 263.9,333.3 263.9,332.2 263.8,331.1 264.2,330.0 263.8,328.9 263.9,327.8 264.2,326.7 264.4,325.6 264.4,324.5 264.5,323.5 264.4,322.4 264.5,321.3 264.4,320.2 264.4,319.1 264.6,318.0 264.4,316.9 264.5,315.8 264.9,314.7 264.7,313.6 265.0,312.6 265.1,311.5 264.9,310.4 265.1,309.3 265.2,308.2 265.3,307.1 265.2,306.0 265.1,304.9 265.2,303.8 265.4,302.6 265.5,301.5 265.5,300.4 265.4,299.3 265.7,298.2 266.0,297.1 265.8,296.0 266.0,294.8 266.0,293.7 266.1,292.6 266.3,291.5 266.1,290.4 266.4,289.3 266.4,288.1 266.5,287.0 266.7,285.9 266.6,284.8 266.9,285.9 266.6,287.0 267.0,288.1 266.9,289.3 266.9,290.4 267.1,291.5 267.3,292.6 267.2,293.7 267.7,294.8 267.5,296.0 267.7,297.1 267.7,298.2 267.7,299.3 267.8,300.4 268.0,301.5 268.2,302.6 268.3,303.8 268.3,304.9 268.4,306.0 268.6,307.1 268.6,308.2 268.4,309.3 268.9,310.4 268.6,311.5 268.9,312.5 268.9,313.6 269.0,314.7 269.2,315.8 269.1,316.9 269.3,318.0 269.2,319.1 269.4,320.2 269.1,321.3 269.2,322.4 269.5,323.5 269.5,324.5 269.4,325.6 269.8,326.7 269.9,327.8 269.9,328.9 270.0,330.0 269.8,331.1 270.1,332.2 270.1,333.3 270.0,334.4 270.3,335.4 270.1,336.6 270.3,337.6 270.4,338.7 270.3,339.8 270.6,340.9 270.6,342.0 270.5,343.1 270.5,344.2 270.7,345.3 270.7,346.4 270.6,347.5 270.8,348.6 270.8,349.7 270.8,350.8 270.8,351.9 270.9,353.0 270.9,354.1 271.3,355.2 271.1,356.3 271.2,357.4 271.4,358.5 271.4,359.6 271.5,360.7 271.2,361.9 271.5,362.9 271.5,364.1 271.4,365.2 271.8,366.2 271.4,367.4 271.9,368.5 272.0,369.6 271.9,370.7 271.9,371.8 271.7,372.9 271.7,374.0 271.9,375.1 272.1,376.2 272.1,377.3 272.3,378.4 272.0,379.5 272.3,380.6 272.4,381.7 272.2,382.8 272.5,383.9 272.4,385.0 272.5,386.1 272.2,387.2 272.7,388.3 272.7,389.4 272.7,390.5 272.7,391.6 272.6,392.7 272.7,393.8 272.7,394.9 272.8,396.0 272.8,397.1 272.7,398.2 272.8,399.3 272.8,400.4 272.7,401.5 273.0,402.6 273.0,403.7 272.7,404.8 272.9,405.9 272.8,407.0 273.1,408.0 273.0,409.1 272.8,410.2 273.1,411.3 272.9,412.4 273.0,413.5 273.2,414.6 272.9,415.7 273.2,416.8 273.2,417.9 273.2,419.0 273.4,420.1 273.1,421.2 273.3,422.3 273.3,423.4 273.3,424.5 273.2,425.6 273.2,426.7 273.3,427.8 273.5,428.9 273.5,430.0 273.6,431.1 273.6,432.2 273.9,433.3 273.9,434.4 273.5,435.5 274.0,436.6 273.6,437.7 273.8,438.8 273.7,439.9 274.2,441.0 274.1,442.1 273.9,443.2 274.3,444.3 274.3,445.4 274.2,446.5 274.4,447.6 274.4,448.7 274.2,449.8 274.5,450.9 274.2,452.0 274.4,453.1 274.7,454.2 274.3,455.3 274.7,456.4 274.6,457.5 274.6,458.6 274.9,459.7 274.7,460.8 275.0,461.9 275.0,463.0 274.7,464.1 274.8,465.2 275.0,466.3 274.8,467.4 274.5,468.5 275.6,469.6 275.2,470.7 275.7,471.8 275.8,472.9 275.8,474.0 275.7,475.1 276.0,476.2 275.8,477.3 275.6,478.4 275.5,479.5 275.4,480.6 275.2,481.7 275.3,482.8 275.6,483.8 276.0,484.9 275.6,486.0 276.7,487.0 276.9,488.1 276.0,489.3 276.4,490.3 277.1,491.3 276.9,492.4 277.2,493.5 277.1,494.6 277.2,495.7 277.3,496.7 276.9,497.9 277.0,499.0 277.5,500.0 277.5,501.1 277.8,502.2 278.2,503.2 277.7,504.4 277.5,505.5 278.7,506.5 278.2,507.7 278.3,508.8 278.5,509.8 279.5,510.8 279.0,512.0 279.1,513.1 279.8,514.0 280.0,515.1 279.7,516.2 279.8,517.3 280.0,518.4 280.0,519.4 280.2,520.5 280.8,521.5 281.5,522.4 281.1,523.6 281.8,524.7 282.7,525.5 284.0,526.0 285.0,526.6 286.0,526.3 287.1,525.7 288.0,526.4 289.0,526.8 289.8,527.4 290.0,528.6 290.8,529.2 291.2,528.2 291.0,527.0 292.3,526.3 292.6,525.3 292.8,524.2 292.6,523.1 292.6,522.0 292.8,520.9 293.5,520.0 294.2,519.1 294.3,518.0 294.0,516.9 295.2,516.1 295.0,514.9 295.1,513.8 295.3,512.8 296.0,511.9 296.0,510.8 296.3,509.8 297.2,509.0 297.2,507.6 298.6,507.1 299.0,506.0 299.8,505.2 301.2,505.4 301.8,504.3 301.6,503.1 302.0,502.1 302.5,501.0 302.5,499.9 302.9,498.8 303.6,497.8 302.8,496.5 303.8,495.6 303.9,494.5 304.3,493.4 304.0,492.2 304.2,491.1 304.5,490.0 304.5,488.9 304.8,487.8 304.7,486.6 304.7,485.5 305.3,484.5 305.1,483.3 305.6,482.3 305.9,481.2 305.7,480.0 305.7,478.9 306.5,477.9 307.0,476.8 306.3,475.6 307.0,474.5 307.2,473.4 307.7,472.4 307.3,471.2 307.7,470.1 307.3,468.9 307.3,467.8 308.3,466.8 307.7,465.6 307.4,464.4 308.7,463.4 307.9,462.2 308.2,461.1 308.3,460.0 308.3,458.9 309.1,457.8 308.7,456.7 309.0,455.6 309.2,454.5 309.5,453.4 309.2,452.2 309.6,451.1 309.7,450.0 309.6,448.9 309.6,447.8 309.9,446.7 309.8,445.6 309.7,444.4 310.0,443.3 310.3,442.2 310.2,441.1 310.1,440.0 310.4,438.9 310.5,437.8 310.1,436.7 310.2,435.6 310.6,434.5 310.7,433.3 310.4,432.2 310.7,431.1 310.8,430.0 310.7,428.9 310.8,427.8 310.8,426.7 310.7,425.5 310.7,424.4 310.7,423.3 311.0,422.2 310.8,421.1 311.1,420.0 311.0,418.9 311.1,417.8 311.4,416.7 311.2,415.6 311.3,414.4 311.3,413.3 311.3,412.2 311.3,411.1 311.5,410.0 311.6,408.9 311.8,407.8 311.5,406.7 311.9,405.6 311.9,404.4 311.6,403.3 312.0,402.2 311.9,401.1 312.0,400.0 311.9,398.9 312.1,397.8 312.2,396.7 312.4,395.6 312.3,394.4 312.4,393.3 312.5,392.2 312.3,391.1 312.3,390.0 312.5,388.9 312.4,387.8 312.5,386.7 312.6,385.6 312.8,384.4 312.9,383.3 313.0,382.2 313.2,381.1 313.0,380.0 312.9,378.9 313.1,377.8 313.0,376.7 313.3,375.6 313.2,374.5 313.1,373.4 313.3,372.4 313.5,371.3 313.5,370.2 313.8,369.1 313.5,368.0 313.6,366.9 313.9,365.8 313.8,364.7 313.6,363.6 314.0,362.6 313.9,361.5 314.2,360.4 314.1,359.3 314.2,358.2 314.3,357.1 314.2,356.0 314.5,354.9 314.1,353.8 314.3,352.7 314.6,351.6 314.2,350.5 314.6,349.5 314.8,348.4 314.7,347.3 314.9,346.2 314.5,345.1 314.8,344.0 314.9,342.9 314.9,341.8 314.9,340.7 315.2,339.6 314.9,338.5 314.9,337.4 315.2,336.4 315.5,335.3 315.5,334.2 315.4,333.1 315.3,332.0 315.7,330.9 315.3,329.8 315.4,328.7 315.8,327.6 315.9,326.6 315.7,325.5 316.0,324.4 315.6,323.3 315.9,322.2 315.7,321.1 316.0,320.0 315.9,318.9 315.9,317.8 315.8,316.7 316.0,315.6 316.1,314.5 316.0,313.4 316.2,312.3 316.0,311.2 316.2,310.1 316.2,309.0 316.2,307.9 316.5,306.8 316.1,305.7 316.3,304.6 316.3,303.5 316.3,302.4 316.6,301.3 316.4,300.2 316.4,299.1 316.4,298.0 316.4,296.8 316.7,295.8 316.7,294.6 316.6,293.5 316.4,292.4 316.6,291.3 316.4,290.2 316.5,289.1 316.4,288.0 316.8,286.9 316.9,285.8 316.8,284.7 316.8,283.6 316.6,282.5 316.7,281.4 316.8,280.3 316.8,279.2 316.7,278.1 316.7,277.0 317.0,275.9 317.1,274.8 317.1,273.7 317.0,272.6 316.7,271.5 316.9,270.4 317.2,269.3 317.3,268.2 317.1,267.1 317.1,266.0 317.2,264.9 317.0,263.8 317.3,262.7 317.1,261.6 317.4,260.5 317.2,259.4 317.3,258.3 317.3,257.2 317.3,256.1 317.3,255.0 317.5,253.9 317.5,252.8 317.3,251.7 317.4,250.6 317.6,249.5 317.6,248.3 317.5,247.2 317.7,246.1 317.3,245.0 317.6,243.9 317.6,242.8 317.5,241.7 317.8,240.6 317.8,239.5 317.6,238.4 317.7,237.3 317.8,236.2 317.8,235.1 317.7,234.0 317.9,232.9 317.7,231.8 317.6,230.7 317.9,229.6 317.9,228.5 317.8,227.4 317.9,226.3 318.1,225.2 318.1,224.1 317.9,223.0 318.2,221.9 318.0,220.8 318.0,219.7 318.1,218.6 318.2,217.5 318.3,216.4 318.2,215.3 318.2,214.2 318.1,213.1 317.9,212.0 318.2,210.9 318.0,209.8 318.4,208.7 318.2,207.6 318.3,206.5 318.4,205.4 318.2,204.2 318.5,203.2 318.3,202.0 318.2,200.9 318.5,199.8 318.4,198.7 318.7,197.6 318.4,196.5 318.3,195.4 318.3,194.3 318.3,193.2 318.6,192.1 318.7,191.0 318.4,189.9 318.5,188.8 318.6,187.7 318.9,186.6 318.9,185.5 318.9,184.4 318.8,183.3 318.8,182.2 318.6,181.1 318.8,180.0 318.9,178.9 318.7,177.8 318.8,176.7 319.1,175.6 319.0,174.5 319.1,173.4 319.0,172.3 319.0,171.2 319.1,170.2 319.2,169.1 319.1,168.0 319.4,166.9 319.5,165.8 319.1,164.7 319.2,163.6 319.5,162.5 319.5,161.4 319.3,160.3 319.5,159.2 319.4,158.1 319.7,157.0 319.6,155.9 319.6,154.8 319.5,153.7 319.6,152.7 319.7,151.6 319.7,150.5 319.6,149.4 319.7,148.3 320.0,147.2 319.9,146.1 320.2,145.0 320.2,143.9 320.1,142.8 320.3,141.8 320.0,140.7 320.1,139.6 320.4,138.5 320.1,137.4 320.2,136.3 320.6,135.2 320.3,134.1 320.4,133.1 320.5,132.0 320.8,130.9 320.5,129.8 320.9,128.7 320.7,127.6 320.9,126.6 320.9,125.5 320.8,124.4 321.3,123.3 320.9,122.2 321.3,121.1 321.4,120.1 321.2,119.0 321.5,117.9 321.1,116.8 321.4,115.7 321.3,114.6 321.6,113.5 321.5,112.5 321.9,111.4 321.9,110.3 322.1,109.3 322.0,108.2 321.9,107.1 322.4,106.0 322.2,104.9 322.4,103.9 322.3,102.8 322.7,101.7 322.7,100.6 322.7,99.5 322.7,98.5 323.0,97.4 323.2,98.5 323.0,99.6 323.4,100.6 323.5,101.7 323.4,102.8 323.5,103.9 323.5,104.9 323.6,106.0 323.6,107.1 324.1,108.2 323.8,109.3 324.3,110.3 324.3,111.4 324.4,112.5 324.2,113.6 324.4,114.6 324.5,115.7 324.3,116.8 324.3,117.9 324.4,119.0 324.6,120.0 324.8,121.1 324.5,122.2 324.6,123.3 324.9,124.4 324.8,125.5 325.1,126.5 325.1,127.6 324.9,128.7 324.9,129.8 324.8,130.9 324.9,132.0 325.3,133.1 325.0,134.2 324.9,135.3 325.1,136.3 325.2,137.4 325.4,138.5 325.5,139.6 325.3,140.7 325.1,141.8 325.6,142.8 325.3,143.9 325.3,145.0 325.5,146.1 325.6,147.2 325.4,148.3 325.8,149.4 325.8,150.5 325.7,151.6 325.6,152.7 325.8,153.8 326.0,154.8 325.7,156.0 325.9,157.0 325.8,158.1 326.1,159.2 326.1,160.3 326.3,161.4 326.3,162.5 326.2,163.6 326.3,164.7 326.2,165.8 326.1,166.9 326.4,168.0 326.2,169.1 326.3,170.2 326.5,171.2 326.7,172.3 326.3,173.4 326.5,174.5 326.9,175.6 326.6,176.7 326.8,177.8 326.8,178.9 326.8,180.0 326.7,181.1 327.0,182.2 326.9,183.3 326.8,184.4 326.6,185.5 327.0,186.6 326.7,187.7 326.7,188.8 327.0,189.8 326.8,190.9 326.8,192.0 326.8,193.1 326.9,194.2 327.0,195.3 326.9,196.4 327.0,197.5 326.9,198.6 327.0,199.7 327.1,200.8 327.1,201.9 327.0,203.0 327.0,204.1 326.9,205.2 326.8,206.3 327.1,207.3 326.9,208.4 327.0,209.5 327.1,210.6 327.2,211.7 326.8,212.8 326.8,213.9 326.8,215.0 327.2,216.1 327.2,217.2 327.2,218.3 327.1,219.4 327.1,220.5 327.3,221.6 327.1,222.7 327.0,223.8 326.9,224.8 327.2,225.9 327.3,227.0 326.9,228.1 327.1,229.2 327.2,230.3 327.3,231.4 327.2,232.5 327.2,233.6 327.2,234.7 327.3,235.8 327.1,236.9 327.0,238.0 327.2,239.1 327.2,240.2 327.2,241.2 327.0,242.3 327.0,243.4 326.9,244.5 327.3,245.6 327.0,246.7 327.3,247.8 327.2,248.9 327.2,250.0 327.2,251.1 327.2,252.2 327.3,253.3 327.4,254.4 327.5,255.5 327.0,256.6 327.1,257.7 327.3,258.7 327.5,259.8 327.1,260.9 327.3,262.0 327.3,263.1 327.2,264.2 327.5,265.3 327.5,266.4 327.2,267.5 327.2,268.6 327.1,269.7 327.4,270.8 327.1,271.9 327.2,273.0 327.4,274.1 327.2,275.2 327.6,276.2 327.6,277.3 327.2,278.4 327.6,279.5 327.4,280.6 327.3,281.7 327.3,282.8 327.6,283.9 327.3,285.0 327.7,286.1 327.4,287.2 327.3,288.3 327.5,289.4 327.6,290.5 327.2,291.6 327.4,292.7 327.4,293.8 327.3,294.8 327.3,295.9 327.5,297.0 327.4,298.1 327.6,299.2 327.7,300.3 327.7,301.4 327.7,302.5 327.8,303.6 327.5,304.7 327.6,305.8 327.4,306.9 327.8,308.0 327.5,309.1 327.8,310.2 327.7,311.2 327.7,312.3 327.4,313.4 327.6,314.5 327.7,315.6 327.8,316.7 327.9,317.8 327.8,318.9 327.7,320.0 327.5,321.1 327.8,322.2 327.8,323.3 327.7,324.4 328.2,325.4 328.1,326.5 328.1,327.6 328.3,328.7 328.2,329.8 328.2,330.9 328.5,332.0 328.3,333.1 328.5,334.2 328.4,335.3 328.7,336.4 328.4,337.5 328.7,338.5 328.5,339.6 328.5,340.7 328.8,341.8 329.1,342.9 329.0,344.0 328.7,345.1 328.9,346.2 328.9,347.3 329.1,348.4 329.0,349.5 329.0,350.6 329.2,351.6 329.3,352.7 329.6,353.8 329.7,354.9 329.6,356.0 329.4,357.1 329.4,358.2 329.5,359.3 329.5,360.4 330.0,361.4 330.1,362.5 330.0,363.6 330.2,364.7 329.9,365.8 329.8,366.9 329.9,368.0 330.4,369.1 330.1,370.2 330.2,371.3 330.2,372.4 330.4,373.5 330.6,374.5 330.3,375.6 330.3,376.7 330.5,377.8 330.6,378.9 330.9,380.0 330.9,381.1 330.9,382.2 331.0,383.3 331.1,384.4 330.9,385.5 330.9,386.5 331.2,387.6 330.9,388.7 331.4,389.8 331.0,390.9 331.3,392.0 331.3,393.1 331.3,394.2 331.5,395.3 331.4,396.4 331.3,397.5 331.7,398.5 331.8,399.6 331.5,400.7 331.8,401.8 331.9,402.9 331.8,404.0 332.0,405.1 332.0,406.2 332.0,407.3 332.2,408.4 331.8,409.5 332.0,410.5 332.0,411.6 332.2,412.7 332.0,413.8 332.0,414.9 332.0,416.0 332.5,417.1 332.4,418.2 332.6,419.3 332.4,420.4 332.4,421.5 332.5,422.5 332.6,423.6 332.4,424.7 332.6,425.8 332.4,426.9 332.8,428.0 332.7,429.1 333.0,430.2 332.8,431.3 332.8,432.4 333.1,433.4 332.9,434.5 333.2,435.6 333.1,436.7 333.1,437.8 333.2,438.9 333.2,440.0 333.5,441.1 333.6,442.2 333.6,443.3 333.6,444.4 333.9,445.5 334.1,446.6 334.2,447.7 334.3,448.8 334.5,449.8 334.4,451.0 334.6,452.1 334.8,453.1 335.1,454.2 334.8,455.4 335.7,456.4 335.8,457.5 335.6,458.6 335.1,459.8 335.0,460.9 335.4,462.0 336.3,463.0 335.5,464.2 336.1,465.2 336.9,466.2 336.9,467.3 337.0,468.4 336.5,469.6 336.6,470.7 336.7,471.8 336.4,472.9 336.8,474.0 336.9,475.1 337.8,476.1 336.9,477.3 337.0,478.4 337.3,479.4 338.4,480.4 337.7,481.6 338.1,482.7 338.2,483.8 338.7,484.8 338.1,486.0 338.2,487.1 338.4,488.2 339.1,489.2 339.0,490.3 339.2,491.4 340.5,492.0 340.2,493.3 341.5,493.9 342.0,494.8 341.9,496.1 343.0,495.9 343.8,497.0 344.8,497.1 345.0,498.3 346.3,498.5 346.8,499.4 347.7,500.0 347.8,501.1 347.6,502.3 347.6,503.4 348.0,504.4 348.8,505.4 349.4,506.4 348.4,507.7 349.5,508.6 349.0,509.8 349.0,511.0 350.2,511.9 350.3,513.0 350.2,514.1 349.8,515.3 349.9,516.4 350.6,517.4 351.6,516.5 350.9,515.2 351.6,514.3 352.3,513.3 351.9,512.1 352.5,511.1 352.3,509.9 353.4,509.1 353.1,507.8 353.5,506.8 354.2,506.1 355.1,505.5 355.5,504.4 356.4,503.9 357.0,502.9 356.8,501.7 356.9,500.6 357.6,499.5 357.7,498.4 358.0,497.3 358.4,496.2 358.5,495.1 358.2,493.9 358.7,492.9 359.3,491.8 358.4,490.5 359.4,489.5 359.4,488.4 359.8,487.4 360.0,486.4 360.0,485.3 360.6,484.4 361.5,483.6 362.1,482.7 362.6,481.8 362.3,480.6 363.5,480.3 364.5,479.8 365.2,478.7 366.0,477.9 365.6,476.6 366.7,475.9 367.3,475.0 367.6,474.0 367.4,472.7 368.1,471.9 368.2,473.1 369.0,474.0 369.3,475.1 369.2,476.4 369.7,477.4 370.8,478.3 370.5,479.6 371.0,480.6 371.9,481.6 371.9,482.7 371.4,484.1 371.5,485.2 372.7,486.1 372.3,487.4 372.9,488.4 373.5,489.4 373.2,490.5 373.6,491.5 374.2,492.5 373.9,493.7 373.9,494.7 373.6,495.9 374.8,496.7 374.7,497.8 375.3,498.8 374.8,500.0 376.0,500.3 376.9,501.0 377.7,501.9 377.5,503.1 377.5,504.3 378.8,505.2 378.6,506.4 378.8,507.5 379.1,508.6 378.6,509.8 378.9,510.9 380.3,511.8 380.1,513.0 380.1,514.2 380.2,515.3 380.6,516.4 381.4,515.5 382.4,514.8 382.3,513.2 383.5,512.6 384.2,511.8 385.3,511.5 385.3,510.1 386.4,509.7 386.7,508.5 387.9,507.9 388.4,506.8 388.4,505.6 389.4,504.9 389.4,503.6 390.3,502.9 391.4,503.6 391.9,504.7 392.2,506.1 393.2,506.8 393.4,507.8 393.7,508.8 394.0,509.8 394.7,510.6 394.2,511.9 395.2,512.6 395.6,511.5 395.8,510.4 395.3,509.1 395.7,508.1 396.4,507.0 397.2,506.0 397.0,504.8 396.4,503.6 397.6,502.6 397.0,501.4 397.8,500.4 397.5,499.1 398.1,498.1 397.7,496.9 398.9,496.0 398.7,494.9 399.1,493.8 399.4,492.8 399.5,491.7 399.5,490.5 399.5,489.4 400.0,488.4 400.9,489.4 401.9,490.3 402.8,491.1 403.3,492.1 403.3,493.5 404.4,494.1 404.8,495.2 405.3,494.2 405.4,493.0 405.3,491.9 406.0,490.9 405.5,489.7 405.3,488.5 406.6,487.6 406.7,486.5 406.9,485.4 407.3,484.3 406.8,483.1 407.0,482.0 407.5,480.9 408.0,479.9 407.7,478.7 407.5,477.6 408.3,476.6 408.7,475.5 407.8,474.3 407.6,473.2 407.9,472.1 408.6,471.1 408.1,469.9 409.3,468.9 408.2,467.7 409.4,466.8 408.8,465.6 409.6,464.6 408.9,463.4 408.7,462.3 409.6,461.3 409.2,460.1 410.2,459.1 410.1,458.0 409.5,456.8 409.9,455.8 410.0,454.7 410.1,453.6 410.4,452.5 410.2,451.4 410.5,450.3 410.6,449.2 410.7,448.1 410.8,447.0 410.8,445.9 410.9,444.7 411.0,443.6 411.5,442.6 411.3,441.4 411.2,440.3 411.5,439.2 411.8,438.1 411.9,437.0 411.7,435.9 411.9,434.8 412.1,433.7 412.2,432.6 412.5,431.5 412.3,430.4 412.7,429.3 412.8,428.2 412.5,427.1 412.9,426.0 413.0,424.9 413.1,423.8 413.4,422.7 413.2,421.5 413.6,420.5 413.3,419.3 413.8,418.3 413.6,417.1 413.6,416.0 414.1,414.9 414.3,413.8 414.3,412.7 414.4,411.6 414.4,410.5 414.4,409.4 414.4,408.3 414.7,407.2 414.9,406.1 414.7,405.0 414.8,403.9 414.8,402.8 414.9,401.7 415.3,400.6 415.0,399.4 415.0,398.3 415.2,397.2 415.6,396.1 415.6,395.0 415.7,393.9 415.8,392.8 416.0,391.7 415.9,390.6 415.7,389.5 416.0,388.4 415.9,387.3 416.1,386.2 416.0,385.1 416.1,384.0 416.2,382.9 416.6,381.8 416.6,380.7 416.5,379.6 416.5,378.5 416.5,377.3 416.4,376.2 416.6,375.1 416.5,374.0 416.8,372.9 417.0,371.8 416.8,370.7 417.0,369.6 417.1,368.5 417.3,367.4 417.1,366.3 417.2,365.2 417.2,364.1 417.6,363.1 417.5,362.0 417.5,360.9 417.8,359.8 417.9,358.7 418.1,357.6 417.9,356.5 417.9,355.4 418.0,354.3 418.1,353.3 418.2,352.2 418.6,351.1 418.5,350.0 418.7,348.9 418.5,347.7 418.7,346.6 418.9,345.5 419.4,344.4 419.2,343.2 419.6,342.1 419.5,341.0 419.6,339.8 420.1,338.8 420.0,337.6 420.0,336.5 420.4,335.4 420.6,334.3 420.7,333.1 421.1,332.1 421.3,331.0 421.2,329.8 421.5,328.7 421.9,327.6 422.4,326.5 422.8,325.4 423.3,324.3 423.7,325.4 424.2,326.6 424.9,327.6 425.3,328.7 425.2,329.8 425.6,330.9 426.0,332.0 426.0,333.1 426.1,334.3 426.4,335.4 426.2,336.5 426.6,337.6 426.6,338.7 426.8,339.9 427.0,341.0 427.1,342.1 427.2,343.2 427.1,344.4 427.1,345.5 427.2,346.6 427.7,347.7 427.4,348.9 427.6,350.0 427.6,351.1 427.6,352.2 427.8,353.3 427.7,354.4 427.7,355.4 428.0,356.5 428.1,357.6 428.1,358.7 428.0,359.8 428.2,360.9 428.2,362.0 428.5,363.0 428.4,364.1 428.7,365.2 428.6,366.3 428.6,367.4 429.0,368.5 428.7,369.6 428.7,370.7 428.7,371.8 428.9,372.9 428.8,374.0 429.2,375.1 429.3,376.2 429.1,377.4 429.3,378.5 429.3,379.6 429.3,380.7 429.2,381.8 429.2,382.9 429.6,384.0 429.5,385.1 429.5,386.2 429.6,387.3 429.7,388.4 429.7,389.5 429.8,390.6 429.7,391.7 430.2,392.8 429.8,393.9 430.2,395.0 430.2,396.1 430.1,397.2 430.2,398.3 430.3,399.4 430.5,400.5 430.6,401.6 430.5,402.8 430.7,403.9 430.4,405.0 430.7,406.1 430.7,407.2 430.7,408.3 430.6,409.4 430.8,410.5 430.8,411.6 431.0,412.7 431.3,413.8 431.4,414.9 431.3,416.0 431.5,417.1 431.5,418.3 431.8,419.3 431.7,420.5 432.0,421.6 432.3,422.6 432.6,423.7 431.9,424.9 432.4,426.0 432.4,427.1 432.6,428.2 432.4,429.4 433.8,430.2 433.4,431.5 433.9,432.5 434.3,433.6 433.8,434.9 434.9,435.8 434.8,437.0 435.6,437.8 436.2,438.7 437.2,439.3 437.7,440.4 438.1,441.4 438.5,440.3 439.8,440.3 440.7,439.9 441.4,439.2 442.5,438.6 442.9,437.6 442.6,436.3 443.9,435.7 443.3,434.2 443.8,433.3 444.7,432.6 445.1,431.5 445.6,430.5 445.8,429.3 445.3,428.0 446.1,427.1 446.6,426.0 446.9,424.9 447.6,425.7 447.7,426.9 448.3,427.8 449.6,428.3 449.7,429.5 450.2,430.4 450.9,431.3 451.7,432.2 452.9,432.6 452.8,433.8 452.5,434.9 453.0,436.0 453.6,437.1 453.2,438.3 453.6,439.4 453.8,440.5 453.9,441.6 453.9,442.8 454.1,443.9 454.5,445.0 454.9,446.1 454.8,447.3 455.6,448.2 455.6,449.4 455.7,450.5 456.5,451.4 456.9,452.5 457.7,453.4 457.1,454.8 458.4,455.5 458.7,456.6 459.3,457.5 459.2,458.8 459.6,459.8 459.8,460.9 460.4,461.8 461.7,461.6 462.4,462.4 463.2,463.1 463.1,464.3 464.4,465.2 464.1,466.4 464.8,467.4 464.2,468.8 465.1,469.7 465.6,470.8 465.4,472.0 466.2,473.0 466.2,474.1 465.8,475.4 466.8,476.3 467.1,477.4 467.1,478.6 467.6,479.6 466.8,480.9 467.0,482.1 467.6,483.1 467.8,484.2 468.4,485.2 469.1,486.2 468.4,487.6 469.3,488.5 469.2,489.7 468.9,491.0 469.8,491.9 471.0,491.9 471.9,492.9 473.1,493.0 474.2,493.2 475.3,493.6 476.5,493.7 477.6,494.1 478.6,493.5 479.3,492.5 479.6,491.2 480.9,490.8 481.1,491.9 482.3,492.4 482.7,493.4 483.1,494.5 483.5,495.5 484.2,496.3 484.2,497.5 485.4,498.4 485.5,499.6 485.5,500.8 486.1,501.9 486.4,503.0 487.4,503.5 487.6,504.8 488.6,505.2 489.7,505.8 490.9,505.4 492.0,505.2 492.5,504.3 492.5,503.1 493.4,502.4 494.2,501.6 494.1,500.4 494.8,499.5 495.3,498.6 495.7,497.6 496.0,496.6 496.9,495.8 496.9,494.6 498.2,494.1 498.6,493.1 498.6,491.9 499.4,492.7 500.2,493.4 500.8,494.3 500.4,495.8 501.4,496.4 501.9,497.4 501.8,496.2 502.1,495.2 503.5,494.7 503.2,493.4 504.5,492.8 504.2,491.5 505.0,490.7 505.2,489.7 505.9,489.0 507.0,488.8 507.5,487.6 508.6,487.5 509.4,488.2 510.2,489.1 510.8,489.9 510.7,491.2 510.8,492.4 511.9,493.0 511.8,491.7 513.3,491.4 513.0,490.0 513.4,489.0 513.7,488.0 514.5,487.2 515.2,486.4 515.6,485.2 516.8,484.7 517.6,483.9 518.5,483.1 519.6,483.3 519.9,484.6 520.9,484.8 521.8,485.3 522.8,484.8 523.0,483.5 524.3,483.3 525.0,482.5 525.8,481.8 526.3,480.8 527.4,481.1 527.7,482.7 529.0,482.8 530.2,483.1 530.7,484.2 531.5,485.0 532.6,484.5 533.3,485.6 534.4,485.3 535.6,485.1 536.7,485.1 537.8,485.9 538.9,486.2 540.0,486.3 541.3,486.0 542.4,485.3 542.5,486.5 543.1,487.5 542.9,488.7 543.5,489.8 544.3,490.7 543.9,492.0 544.5,493.0 544.6,494.2 545.1,493.2 545.0,492.0 545.5,491.1 545.9,490.1 546.8,489.3 546.4,488.0 547.3,487.2 547.7,486.2 548.2,485.3 548.2,486.5 549.7,487.0 549.7,488.2 549.9,489.3 550.9,490.0 550.7,491.3 552.1,491.8 552.3,492.9 552.8,493.9 552.8,492.7 553.0,491.6 553.0,490.5 554.2,489.6 554.3,488.5 554.8,487.5 554.6,486.3 554.4,485.1 555.3,484.1 556.0,483.1 555.7,481.9 555.9,480.8 556.7,481.6 556.8,482.7 556.9,483.9 557.4,484.8 558.3,485.6 558.9,484.7 559.4,483.7 558.9,482.3 559.5,481.3 559.7,480.3 560.8,479.5 561.3,480.5 561.8,481.5 562.9,482.2 562.3,483.7 563.2,484.5 563.4,485.6 563.6,486.8 564.7,487.5 565.4,486.6 565.7,485.6 565.9,484.5 566.1,483.4 566.7,482.5 567.1,481.5 566.8,480.3 567.8,479.5 567.2,478.2 568.1,477.3 568.9,476.5 568.7,475.3 569.3,476.3 568.5,477.6 569.3,478.6 569.1,479.8 570.1,480.7 570.4,481.8 570.3,482.9 570.0,484.1 569.8,485.3 570.5,486.3 570.9,485.3 571.3,484.2 571.4,483.1 572.0,482.1 572.6,481.1 573.2,480.1 572.8,478.8 573.6,477.9 573.6,476.7 573.8,475.6 574.5,474.7 575.7,475.1 576.0,476.2 576.6,477.1 576.8,478.1 577.4,479.1 577.8,480.0 577.8,481.2 578.6,482.0 578.7,483.1 579.2,484.0 579.7,485.0 580.7,484.3 580.3,483.0 580.9,482.1 581.8,481.3 581.6,480.1 582.6,479.4 582.7,478.3 583.1,477.2 583.5,476.2 584.6,475.6 585.3,474.7 585.8,473.7 586.3,474.7 586.6,475.8 585.9,477.1 586.9,478.0 586.9,479.1 587.5,480.1 587.6,481.2 588.3,482.2 588.7,483.2 588.5,484.4 589.3,483.5 589.4,482.4 589.2,481.2 589.6,480.1 590.1,479.2 589.8,477.9 590.8,477.1 591.6,476.2 591.5,475.0 591.5,473.8 591.4,472.7 592.2,471.8 592.5,470.7 592.8,471.7 593.1,472.8 593.3,473.8 594.6,474.5 595.2,475.3 594.6,476.8 595.6,477.5 595.6,478.7 596.4,479.5 596.4,480.7 597.4,481.4 597.8,480.4 598.3,479.5 598.4,478.5 599.1,477.6 598.8,476.4 599.5,475.6 600.1,474.7 599.7,473.5 599.8,472.4 600.2,471.4 600.9,470.6 601.6,471.4 602.2,472.3 603.0,473.1 603.9,472.4 604.4,471.4 605.1,470.6 604.8,471.8 605.9,472.5 606.8,473.3 606.4,474.5 606.6,475.5 607.1,476.4 607.9,477.1 607.6,478.3 608.8,478.9 608.8,480.0 609.6,479.0 609.1,477.9 610.0,476.9 609.8,475.8 610.1,474.7 609.6,473.5 610.7,472.7 610.4,471.5 611.6,471.5 611.8,470.0 612.9,469.8 613.7,470.5 614.8,470.5 615.4,471.5 616.5,471.0 617.1,470.1 617.7,469.3 617.9,468.1 618.8,467.3 619.0,466.0 619.9,465.1 620.4,464.0 620.4,462.6 621.0,461.5 622.1,460.7 622.3,459.6 622.8,458.6 622.3,457.4 622.1,456.3 622.3,455.2 622.8,454.2 623.0,453.1 623.9,452.1 623.8,451.0 623.7,449.9 623.5,451.2 624.0,452.3 624.5,453.5 624.7,454.6 625.4,455.7 625.9,456.7 625.3,457.8 625.7,458.8 625.8,459.9 626.2,460.9 626.4,461.9 626.0,463.0 626.6,464.0 627.2,462.9 626.6,461.6 627.7,460.7 627.5,459.5 627.1,458.2 628.3,457.2 628.6,456.1 628.3,454.9 629.1,453.8 630.0,452.8 631.1,453.3 632.0,454.0 631.9,452.9 632.1,451.8 632.8,450.8 632.9,449.8 633.4,448.8 633.7,447.7 633.7,446.6 634.5,445.4 635.8,444.9 637.0,445.7 637.7,444.8 637.6,443.6 637.9,442.5 638.0,441.3 638.9,440.5 639.4,439.4 639.5,438.3 640.3,437.5 640.7,436.5 640.6,435.3 641.2,434.4 641.7,433.4 642.0,432.4 643.6,432.0 644.2,432.9 645.2,433.7 644.8,435.1 645.1,436.3 646.1,437.0 646.7,436.2 647.8,435.7 647.5,434.1 648.6,433.7 649.1,434.7 650.0,435.5 650.3,436.6 651.1,437.4 651.2,436.3 651.9,435.4 651.5,434.2 651.9,433.2 652.3,432.2 652.6,431.1 652.8,430.1 653.2,429.1 653.1,430.4 654.2,431.3 654.6,432.4 655.7,433.2 655.7,434.5 656.2,435.4 656.6,436.4 657.2,437.1 658.0,437.8 658.9,436.8 658.7,435.6 658.6,434.4 659.6,433.4 660.0,432.3 660.3,431.2 659.9,429.9 661.0,430.4 660.9,431.7 662.1,432.1 662.6,433.0 662.7,434.3 663.6,434.9 664.6,434.1 664.7,433.0 664.9,431.8 665.6,430.9 666.1,429.9 667.0,430.4 667.8,431.1 668.7,431.8 668.7,433.3 669.9,433.6 671.2,433.6 671.7,432.2 673.1,432.5 674.1,431.9 674.9,431.1 675.9,430.5 676.3,429.2 677.4,428.6 678.5,428.1 679.2,427.1 679.8,426.1 681.1,426.1 681.5,424.5 682.7,424.4 683.7,423.9 684.8,423.6 685.8,423.7 686.6,424.8 687.6,425.0 688.7,425.1 689.8,424.9 690.6,425.7 691.4,426.5 692.3,427.2 693.5,427.4 693.7,426.2 694.7,425.5 695.7,424.7 695.2,423.2 696.1,422.4 696.5,421.3 697.7,420.6 697.7,419.4 698.3,418.4 698.6,417.1 699.5,416.3 700.5,415.4 701.0,414.3 701.6,413.5 701.6,412.3 703.0,412.0 703.0,410.8 703.8,410.1 704.4,409.1 705.7,409.3 706.6,408.7 707.5,407.8 708.1,406.7 708.1,405.3 709.3,404.6 709.2,403.4 710.5,402.9 710.7,401.9 710.6,400.6 711.7,400.1 712.1,399.1 711.8,397.8 712.6,396.9 713.2,395.8 712.8,394.5 713.5,393.5 714.6,394.1 715.6,394.9 716.1,393.8 715.7,392.5 716.4,391.5 715.9,390.2 717.0,389.2 716.9,388.0 716.9,386.9 717.5,385.9 718.6,385.1 718.3,383.9 719.3,383.2 719.3,381.8 720.4,381.1 721.2,380.3 721.0,379.1 721.6,378.1 721.7,377.0 722.2,376.1 722.9,375.3 723.1,374.2 723.3,373.2 723.6,372.2 724.1,371.3 724.1,370.2 724.6,369.3 724.7,368.2 725.2,367.3 726.4,367.8 727.3,368.7 728.2,368.2 728.7,367.3 729.5,366.7 730.1,365.9 730.1,364.8 730.4,363.8 730.4,362.8 730.9,361.8 730.7,360.7 731.3,359.7 731.5,358.7 731.4,357.6 731.4,356.5 731.6,355.5 731.7,354.4 731.8,353.3 732.2,352.3 732.3,351.2 732.7,350.2 732.6,349.1 732.8,348.0 733.0,346.9 733.5,345.9 733.7,344.8 734.2,343.8 734.1,342.7 734.5,341.7 734.8,340.6 734.6,339.5 735.2,338.5 735.3,337.5 735.6,336.4 735.5,335.3 735.6,334.2 735.9,333.2 735.8,332.1 736.1,331.1 736.3,330.0 736.8,329.0 737.0,327.8 737.5,326.7 737.6,325.6 738.1,324.5 738.6,323.4 738.7,322.2 739.1,321.1 739.6,320.1 740.2,319.0 740.1,317.8 740.7,316.7 740.8,315.6 741.3,314.5 741.2,313.4 741.5,312.3 741.6,311.2 742.2,310.1 742.4,309.0 742.4,307.9 742.9,306.8 743.1,305.7 743.0,304.6 743.3,303.5 743.3,302.4 743.9,301.3 744.0,300.2 744.1,299.1 744.2,298.0 744.5,296.9 745.1,295.9 745.2,294.8 745.4,293.7 745.6,292.6 745.7,291.5 746.0,290.4 746.3,289.3 746.3,288.2 746.7,287.2 746.7,286.1 746.9,285.0 747.1,283.9 747.3,282.9 747.3,281.8 747.6,280.7 747.5,279.6 747.6,278.5 747.7,277.4 747.9,276.3 748.3,275.3 748.2,274.2 748.3,273.1 748.6,272.0 748.6,270.8 749.1,269.8 749.4,268.7 749.3,267.5 749.4,266.4 749.8,265.3 750.1,264.2 750.0,263.0 750.3,261.9 750.4,260.8 750.7,259.7 750.9,258.6 751.2,257.5 751.2,256.3 751.2,255.2 751.6,254.1 751.5,253.0 751.5,252.0 751.7,250.9 751.5,249.8 751.7,248.7 752.0,247.6 752.0,246.5 752.1,245.4 752.0,244.3 752.2,243.3 752.3,242.2 752.1,241.1 752.3,240.0 752.6,238.9 752.6,237.9 752.5,236.8 752.6,235.7 752.9,234.7 752.5,233.6 752.7,232.5 753.1,231.4 752.7,230.3 753.1,229.3 753.0,228.2 753.0,227.1 753.0,226.1 753.2,225.0 753.3,223.9 753.5,222.9 753.5,221.8 753.8,220.7 753.8,219.6 753.7,218.4 754.0,217.3 754.3,216.2 754.1,215.0 754.4,213.9 754.3,212.8 754.5,211.6 754.7,210.5 754.8,209.4 755.8,208.7 756.5,207.7 757.3,206.9 757.3,205.7 757.6,204.6 757.5,203.5 758.0,202.4 758.1,201.2 758.1,200.1 758.4,199.0 758.5,197.8 758.7,196.7 758.9,195.5 759.0,194.4 759.2,193.3 759.0,192.2 759.4,191.1 759.4,190.0 759.2,188.9 759.6,187.8 759.4,186.7 759.7,185.6 759.5,184.4 759.8,183.4 759.9,182.2 759.8,181.1 760.0,180.0 760.1,178.9 760.1,177.8 760.0,176.7 760.3,175.6 760.2,174.5 760.5,173.5 760.5,172.4 760.8,171.3 760.7,170.2 760.9,169.2 761.1,168.1 761.1,167.0 761.5,166.0 761.6,164.9 761.5,163.8 761.7,162.8 762.1,161.8 762.1,160.7 762.2,159.6 762.1,158.5 762.7,157.5 762.5,156.4 762.9,155.4 763.2,154.4 763.3,153.4 763.5,152.3 763.3,151.2 763.6,150.2 763.7,149.2 764.3,148.2 764.2,147.1 764.2,146.0 764.4,144.8 764.8,143.7 765.0,142.6 765.1,141.5 765.2,140.3 765.5,139.2 765.6,138.1 765.4,136.9 766.0,135.9 766.0,134.7 765.8,133.6 766.4,132.5 766.3,131.4 766.4,130.4 766.2,129.3 766.6,128.2 766.5,127.1 766.6,126.0 766.5,124.9 766.8,123.8 767.0,122.7 767.0,121.7 767.1,120.6 767.1,119.5 767.2,118.4 767.2,117.3 767.5,116.3 767.4,115.1 767.7,114.1 768.1,113.0 768.2,112.0 768.5,110.9 768.6,109.8 768.7,108.7 768.9,107.7 768.9,106.6 769.3,105.5 769.5,104.5 769.4,103.3 769.7,102.3 769.9,101.2 770.1,100.2 770.5,99.1 770.3,98.0 770.6,96.9 771.2,96.0 771.3,94.9 771.4,93.8 771.5,92.7 771.6,91.6 771.9,90.6 772.5,89.6 772.3,88.4 772.7,87.4 773.1,86.4 772.9,85.2 773.4,84.2 773.3,83.1 773.7,82.1 773.9,81.0 774.0,79.9 774.0,78.8 774.3,77.8 774.4,76.7 774.9,75.7 774.8,74.5 775.1,73.5 775.2,72.4 775.5,73.4 775.6,74.5 775.5,75.6 775.7,76.6 775.9,77.6 776.0,78.7 776.1,79.7 776.8,80.7 776.8,81.8 777.1,82.8 776.9,83.9 777.2,84.9 777.7,85.9 777.6,87.1 778.2,88.1 778.5,89.1 778.7,90.2 778.7,91.4 779.2,92.4 779.4,93.5 779.6,94.6 779.4,95.7 779.7,96.7 779.7,97.8 779.8,98.9 779.8,100.0 780.1,101.1 780.3,102.2 780.4,103.3 780.2,104.4 780.6,105.4 780.7,106.5 780.6,107.6 780.6,108.7 780.9,109.8 781.0,110.9 781.1,112.0 781.2,113.0 781.2,114.1 781.1,115.2 781.3,116.3 781.4,117.4 781.6,118.5 781.6,119.5 781.7,120.6 781.6,121.7 781.6,122.8 781.7,123.9 782.1,124.9 781.8,126.1 782.2,127.1 782.2,128.2 782.2,129.3 782.5,130.4 782.4,131.5 782.2,132.6 782.7,133.6 782.6,134.7 782.5,135.8 782.9,136.9 783.1,138.0 783.0,139.1 783.4,140.2 783.3,141.3 783.2,142.5 783.6,143.5 783.5,144.7 783.8,145.7 783.7,146.9 783.8,148.0 784.0,149.1 784.2,150.2 784.4,151.3 784.6,152.4 784.5,153.5 784.6,154.6 785.0,155.7 785.0,156.9 785.6,157.9 785.9,159.0 786.1,160.1 786.2,161.3 786.4,162.4 786.8,163.5 787.1,164.6 787.3,165.7 787.5,166.8 787.4,167.9 787.7,169.0 787.5,170.1 787.7,171.2 787.7,172.4 788.0,173.4 788.1,174.5 788.1,175.7 788.5,176.7 788.3,177.9 788.5,179.0 788.6,180.1 789.0,181.2 789.0,182.3 789.2,183.4 789.1,184.5 789.3,185.6 789.4,186.6 789.3,187.7 789.6,188.8 789.7,189.8 789.9,190.9 790.0,191.9 790.3,193.0 790.2,194.1 790.4,195.1 790.7,196.2 790.5,197.3 791.0,198.3 790.9,199.4 790.8,200.5 791.1,201.6 791.0,202.7 791.3,203.8 791.6,204.9 791.5,206.0 791.7,207.1 791.6,208.2 792.0,209.3 791.8,210.5 791.8,211.6 792.0,212.7 792.2,213.8 792.1,214.9 792.4,216.0 792.2,217.1 792.3,218.2 792.6,219.3 792.8,220.4 792.7,221.5 793.2,222.5 793.0,223.6 793.2,224.7 793.7,225.7 793.5,226.8 793.8,227.9 793.8,229.0 794.2,230.0 794.2,231.1 794.1,232.2 794.4,233.2 794.6,234.3 794.7,235.4 794.8,236.5 795.2,237.6 795.4,238.7 795.4,239.8 795.6,240.9 795.7,242.0 795.8,243.1 795.9,244.2 796.2,245.3 796.2,246.4 796.1,247.5 796.2,248.6 796.4,249.7 796.8,250.7 796.6,251.9 797.0,252.9 797.1,254.0 797.2,255.1 796.9,256.3 797.3,257.3 797.5,258.4 797.7,259.5 797.6,260.6 797.6,261.7 797.9,262.8 798.0,263.9 798.2,265.0 798.3,266.1 798.5,267.2 798.2,268.3 798.5,269.4 798.4,270.5 798.7,271.6 798.8,272.7 799.0,273.8 798.9,274.9 799.3,276.0 799.3,277.1 799.3,278.2 799.6,279.3 799.3,280.4 799.7,281.5 800.0,282.5 799.9,283.6 799.5,284.8 800.6,285.8 800.3,286.9 800.3,288.0 799.9,289.2 801.2,290.2 800.4,291.3 801.4,292.4 800.6,293.5 800.4,294.7 801.1,295.7 801.0,296.8 802.0,297.8 801.8,299.0 801.7,300.1 801.2,301.3 802.0,302.3 802.4,303.4 801.9,304.6 802.0,305.7 801.8,306.8 802.4,307.9 802.4,309.0 802.4,310.1 803.4,311.1 803.8,312.2 802.8,313.4 803.3,314.5 803.0,315.7 803.7,316.7 804.0,317.9 805.5,318.3 806.0,319.4 806.4,320.6 806.1,321.8 806.7,322.8 806.6,324.0 806.6,325.1 808.1,326.0 807.9,327.2 808.4,328.2 808.4,329.4 808.4,330.5 807.8,331.8 809.0,332.7 808.8,333.9 809.0,335.0 809.3,336.1 808.8,337.3 809.4,338.3 810.0,339.4 810.6,340.4 810.6,341.5 811.0,342.6 810.1,343.9 811.2,344.8 811.6,345.9 812.0,347.0 811.6,348.2 812.3,349.2 811.9,350.4 812.3,351.5 812.4,352.6 812.4,353.7 813.3,354.7 813.0,355.9 813.2,357.0 812.9,358.2 813.9,359.1 814.4,360.1 814.2,361.3 815.2,362.1 815.3,363.4 815.9,364.5 816.9,365.2 817.6,366.1 817.3,367.4 817.6,368.5 818.8,369.2 819.6,370.1 819.0,371.6 820.3,372.2 819.7,373.6 820.8,374.4 821.6,375.2 822.1,376.2 822.8,377.0 823.9,377.6 824.2,378.7 824.7,379.7 825.8,380.2 826.0,381.4 827.1,382.0 827.2,383.3 828.0,384.1 828.7,384.9 828.4,386.1 828.9,387.1 829.4,388.0 829.5,389.1 830.3,390.0 830.5,391.1 830.8,392.3 831.7,393.0 832.2,394.1 832.8,395.1 833.7,395.8 834.6,396.6 834.9,397.9 836.5,398.0 836.2,399.7 837.4,400.3 838.1,401.2 838.8,402.1 839.8,402.8 840.4,403.8 840.8,404.9 841.7,405.6 842.8,406.3 842.9,407.6 844.0,407.5 845.0,407.4 846.0,408.0 846.0,409.3 847.7,409.6 847.6,411.0 848.5,411.8 849.3,412.4 850.1,412.9 851.2,412.4 852.1,411.6 852.7,410.7 853.2,409.6 853.7,408.6 854.9,408.0 855.7,407.1 856.1,405.8 856.9,404.9 856.4,406.1 857.1,407.2 857.5,408.3 857.8,409.4 857.5,410.6 857.8,411.7 858.2,412.8 858.2,413.9 858.4,415.0 857.9,416.2 858.6,417.3 859.3,416.3 860.2,415.6 861.5,415.5 862.4,414.9 862.8,415.9 863.9,416.5 863.9,417.6 864.7,418.4 865.1,419.3 864.8,420.6 866.2,421.1 866.1,422.3 866.9,423.1 867.0,424.2 867.1,425.3 867.6,426.2 868.4,427.0 868.9,427.9 868.9,429.1 869.8,429.8 870.5,429.0 871.4,428.4 871.6,427.2 871.9,426.1 873.4,426.0 873.6,424.8 874.7,425.1 875.4,426.1 876.2,426.9 877.3,427.3 878.2,427.0 879.1,426.5 879.9,425.8 881.0,426.1 881.8,426.8 882.9,427.2 883.2,428.4 884.1,429.0 884.8,429.8 886.0,430.1 886.4,431.1 887.1,432.0 888.0,432.5 888.5,433.5 889.5,432.8 889.1,431.5 889.2,430.4 889.5,429.4 890.0,428.4 890.9,427.7 890.8,426.5 891.7,425.7 892.2,424.8 893.3,424.2 893.2,422.8 894.3,422.2 894.7,421.1 895.1,422.1 895.9,422.9 896.0,424.0 897.0,424.7 896.8,425.9 897.7,426.7 898.1,427.7 898.0,428.8 898.4,429.8 898.9,428.9 899.3,427.9 899.9,427.0 900.7,426.3 902.1,426.0 902.2,424.8 903.4,424.3 903.4,422.8 903.9,421.6 905.1,421.1 905.6,420.1 906.7,419.3 906.4,417.8 907.9,417.3 907.8,415.9 908.4,414.9 909.2,415.7 909.9,416.5 910.1,417.5 910.2,418.6 911.0,419.4 911.3,420.4 911.4,421.5 912.1,422.3 912.5,423.3 913.5,424.1 913.9,425.2 913.3,426.6 914.6,427.3 914.6,428.5 915.4,427.8 916.6,427.5 917.7,427.3 918.3,426.1 918.9,427.0 919.3,428.1 920.0,429.0 920.8,429.8" fill="none" stroke="#808080" stroke-width="3.2" stroke-linejoin="round" stroke-linecap="round"/>
<line x1="120.9" y1="30.80" x2="120.9" y2="632.60" stroke="#000" stroke-width="2.4"/>
<line x1="114.70" y1="620.6" x2="922.49" y2="620.6" stroke="#000" stroke-width="2.4"/>
<line x1="108.70" y1="581.40" x2="120.9" y2="581.40" stroke="#000" stroke-width="2.3"/>
<line x1="108.70" y1="502.90" x2="120.9" y2="502.90" stroke="#000" stroke-width="2.3"/>
<line x1="108.70" y1="424.40" x2="120.9" y2="424.40" stroke="#000" stroke-width="2.3"/>
<line x1="108.70" y1="345.90" x2="120.9" y2="345.90" stroke="#000" stroke-width="2.3"/>
<line x1="108.70" y1="267.40" x2="120.9" y2="267.40" stroke="#000" stroke-width="2.3"/>
<line x1="108.70" y1="188.90" x2="120.9" y2="188.90" stroke="#000" stroke-width="2.3"/>
<line x1="108.70" y1="110.40" x2="120.9" y2="110.40" stroke="#000" stroke-width="2.3"/>
<line x1="108.70" y1="31.90" x2="120.9" y2="31.90" stroke="#000" stroke-width="2.3"/>
<line x1="114.70" y1="542.15" x2="120.9" y2="542.15" stroke="#000" stroke-width="2.3"/>
<line x1="114.70" y1="463.65" x2="120.9" y2="463.65" stroke="#000" stroke-width="2.3"/>
<line x1="114.70" y1="385.15" x2="120.9" y2="385.15" stroke="#000" stroke-width="2.3"/>
<line x1="114.70" y1="306.65" x2="120.9" y2="306.65" stroke="#000" stroke-width="2.3"/>
<line x1="114.70" y1="228.15" x2="120.9" y2="228.15" stroke="#000" stroke-width="2.3"/>
<line x1="114.70" y1="149.65" x2="120.9" y2="149.65" stroke="#000" stroke-width="2.3"/>
<line x1="114.70" y1="71.15" x2="120.9" y2="71.15" stroke="#000" stroke-width="2.3"/>
<line x1="215.07" y1="620.6" x2="215.07" y2="632.40" stroke="#000" stroke-width="2.3"/>
<line x1="309.25" y1="620.6" x2="309.25" y2="632.40" stroke="#000" stroke-width="2.3"/>
<line x1="403.42" y1="620.6" x2="403.42" y2="632.40" stroke="#000" stroke-width="2.3"/>
<line x1="497.60" y1="620.6" x2="497.60" y2="632.40" stroke="#000" stroke-width="2.3"/>
<line x1="591.77" y1="620.6" x2="591.77" y2="632.40" stroke="#000" stroke-width="2.3"/>
<line x1="685.95" y1="620.6" x2="685.95" y2="632.40" stroke="#000" stroke-width="2.3"/>
<line x1="780.12" y1="620.6" x2="780.12" y2="632.40" stroke="#000" stroke-width="2.3"/>
<line x1="874.30" y1="620.6" x2="874.30" y2="632.40" stroke="#000" stroke-width="2.3"/>
<line x1="167.99" y1="620.6" x2="167.99" y2="626.20" stroke="#000" stroke-width="2.3"/>
<line x1="262.16" y1="620.6" x2="262.16" y2="626.20" stroke="#000" stroke-width="2.3"/>
<line x1="356.34" y1="620.6" x2="356.34" y2="626.20" stroke="#000" stroke-width="2.3"/>
<line x1="450.51" y1="620.6" x2="450.51" y2="626.20" stroke="#000" stroke-width="2.3"/>
<line x1="544.69" y1="620.6" x2="544.69" y2="626.20" stroke="#000" stroke-width="2.3"/>
<line x1="638.86" y1="620.6" x2="638.86" y2="626.20" stroke="#000" stroke-width="2.3"/>
<line x1="733.04" y1="620.6" x2="733.04" y2="626.20" stroke="#000" stroke-width="2.3"/>
<line x1="827.21" y1="620.6" x2="827.21" y2="626.20" stroke="#000" stroke-width="2.3"/>
<line x1="921.39" y1="620.6" x2="921.39" y2="626.20" stroke="#000" stroke-width="2.3"/>
<text x="97.5" y="590.8" text-anchor="end" font-size="26.5">50</text>
<text x="97.8" y="514.8" text-anchor="end" font-size="26.5">60</text>
<text x="97.5" y="432.3" text-anchor="end" font-size="26.5">70</text>
<text x="99.0" y="354.9" text-anchor="end" font-size="26.5">80</text>
<text x="100.3" y="277.4" text-anchor="end" font-size="26.5">90</text>
<text x="101.3" y="195.8" text-anchor="end" font-size="26.5">100</text>
<text x="101.6" y="117.9" text-anchor="end" font-size="26.5">110</text>
<text x="102.0" y="40.3" text-anchor="end" font-size="26.5">120</text>
<text x="120.9" y="660.9" text-anchor="middle" font-size="26.5">0</text>
<text x="215.1" y="660.9" text-anchor="middle" font-size="26.5">200</text>
<text x="309.2" y="660.9" text-anchor="middle" font-size="26.5">400</text>
<text x="403.4" y="660.9" text-anchor="middle" font-size="26.5">600</text>
<text x="497.6" y="660.9" text-anchor="middle" font-size="26.5">800</text>
<text x="591.8" y="660.9" text-anchor="middle" font-size="26.5">1000</text>
<text x="685.9" y="660.9" text-anchor="middle" font-size="26.5">1200</text>
<text x="780.1" y="660.9" text-anchor="middle" font-size="26.5">1400</text>
<text x="874.3" y="660.9" text-anchor="middle" font-size="26.5">1600</text>
<text transform="translate(38.5,460.3) rotate(-90)" font-size="31.6">Raman Intensity(a.u.)</text>
<text x="493.3" y="700.8" font-size="29">number(cm<tspan font-size="16.5" dy="-9">-1</tspan><tspan dy="9">)</tspan></text>
<text x="319.8" y="78" font-size="25" font-style="italic" fill="#f5f5f5">403</text>
<text x="190.7" y="195.3" font-size="29" fill="#e31a1c">215</text>
<text x="246.1" y="67.7" font-size="29" fill="#e31a1c">278</text>
<text x="299.8" y="86.7" font-size="25.5" fill="#000">403</text>
<text x="266.8" y="281.2" font-size="28.5" fill="#000">292</text>
<text x="270.8" y="330.3" font-size="27.5" fill="#e31a1c">391</text>
<text x="397.5" y="318.6" font-size="28.5" fill="#000">603</text>
<text x="360.0" y="365.0" font-size="31" fill="#e31a1c">588</text>
<text x="699.6" y="387.9" font-size="29" fill="#e31a1c" letter-spacing="-0.75">1375</text>
<text x="832.5" y="443.3" font-size="40" font-weight="bold" fill="#5db53a">a</text>
<text x="928.6" y="443.3" font-size="44" font-weight="bold" fill="#5a5a5a">c</text>
<text x="931.2" y="573.3" font-size="44.5" fill="#e3122a" stroke="#e3122a" stroke-width="1.2">b</text>
</svg>
</body></html>
